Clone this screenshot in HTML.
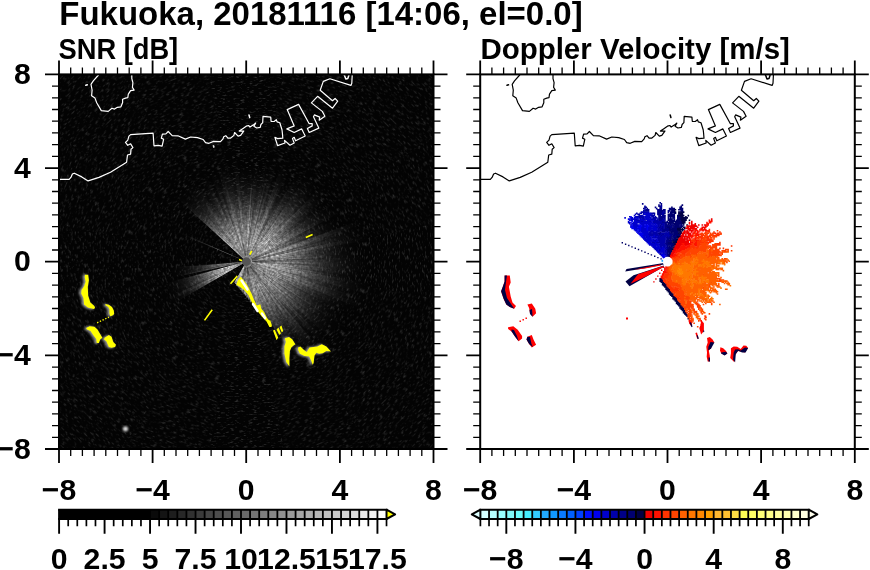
<!DOCTYPE html><html><head><meta charset="utf-8"><style>html,body{margin:0;padding:0;background:#fff;overflow:hidden}svg{display:block;will-change:transform}text{font-family:"Liberation Sans",sans-serif;font-weight:bold}</style></head><body>
<svg width="870" height="570" viewBox="0 0 870 570">
<defs><clipPath id="cl"><rect x="59" y="74.4" width="374.5" height="374.6"/></clipPath><clipPath id="cr"><rect x="480.2" y="74.4" width="374.6" height="374.6"/></clipPath>
<radialGradient id="fg" gradientUnits="userSpaceOnUse" cx="0" cy="0" r="1"><stop offset="0.00" stop-color="#fff" stop-opacity="1.000"/><stop offset="0.06" stop-color="#fff" stop-opacity="0.995"/><stop offset="0.12" stop-color="#fff" stop-opacity="0.973"/><stop offset="0.19" stop-color="#fff" stop-opacity="0.927"/><stop offset="0.25" stop-color="#fff" stop-opacity="0.856"/><stop offset="0.31" stop-color="#fff" stop-opacity="0.762"/><stop offset="0.38" stop-color="#fff" stop-opacity="0.651"/><stop offset="0.44" stop-color="#fff" stop-opacity="0.533"/><stop offset="0.50" stop-color="#fff" stop-opacity="0.415"/><stop offset="0.56" stop-color="#fff" stop-opacity="0.307"/><stop offset="0.62" stop-color="#fff" stop-opacity="0.215"/><stop offset="0.69" stop-color="#fff" stop-opacity="0.142"/><stop offset="0.75" stop-color="#fff" stop-opacity="0.089"/><stop offset="0.81" stop-color="#fff" stop-opacity="0.052"/><stop offset="0.88" stop-color="#fff" stop-opacity="0.028"/><stop offset="0.94" stop-color="#fff" stop-opacity="0.014"/><stop offset="1.00" stop-color="#fff" stop-opacity="0.007"/></radialGradient><filter id="grain" color-interpolation-filters="sRGB" x="59" y="74" width="375" height="375" filterUnits="userSpaceOnUse"><feTurbulence type="fractalNoise" baseFrequency="0.38" numOctaves="2" seed="3"/><feColorMatrix type="matrix" values="1 0 0 0 0  1 0 0 0 0  1 0 0 0 0  0 0 0 0 1" result="m"/><feComposite in="SourceGraphic" in2="m" operator="arithmetic" k1="0.9" k2="0.55" k3="0" k4="0" result="c"/><feGaussianBlur in="c" stdDeviation="0.6"/></filter><filter id="bgn" color-interpolation-filters="sRGB" filterUnits="objectBoundingBox" x="0" y="0" width="1" height="1"><feTurbulence type="fractalNoise" baseFrequency="0.22 0.6" numOctaves="2" seed="9"/><feColorMatrix type="matrix" values="0 0 0 0 1  0 0 0 0 1  0 0 0 0 1  0.6 0 0 0 -0.33"/><feGaussianBlur stdDeviation="0.3"/></filter>
<filter id="hb" x="-20%" y="-20%" width="140%" height="140%"><feGaussianBlur stdDeviation="0.8"/></filter>
</defs>
<rect width="870" height="570" fill="#fff"/>
<g clip-path="url(#cl)">
<rect x="59" y="74.4" width="374.5" height="374.6" fill="#030303"/>
<clipPath id="sc0"><path d="M246.4 261.6L109.2 -424.8L383.6 -424.8Z"/></clipPath>
<g clip-path="url(#sc0)"><rect x="-33.6" y="-18.4" width="560" height="560" fill="#fff" filter="url(#bgn)" transform="rotate(0.0 246.4 261.6)"/></g>
<clipPath id="sc1"><path d="M246.4 261.6L382.4 -425.1L635.8 -320.1Z"/></clipPath>
<g clip-path="url(#sc1)"><rect x="-33.6" y="-18.4" width="560" height="560" fill="#fff" filter="url(#bgn)" transform="rotate(22.5 246.4 261.6)"/></g>
<clipPath id="sc2"><path d="M246.4 261.6L634.8 -320.8L828.8 -126.8Z"/></clipPath>
<g clip-path="url(#sc2)"><rect x="-33.6" y="-18.4" width="560" height="560" fill="#fff" filter="url(#bgn)" transform="rotate(45.0 246.4 261.6)"/></g>
<clipPath id="sc3"><path d="M246.4 261.6L828.1 -127.8L933.1 125.6Z"/></clipPath>
<g clip-path="url(#sc3)"><rect x="-33.6" y="-18.4" width="560" height="560" fill="#fff" filter="url(#bgn)" transform="rotate(67.5 246.4 261.6)"/></g>
<clipPath id="sc4"><path d="M246.4 261.6L932.8 124.4L932.8 398.8Z"/></clipPath>
<g clip-path="url(#sc4)"><rect x="-33.6" y="-18.4" width="560" height="560" fill="#fff" filter="url(#bgn)" transform="rotate(90.0 246.4 261.6)"/></g>
<clipPath id="sc5"><path d="M246.4 261.6L933.1 397.6L828.1 651.0Z"/></clipPath>
<g clip-path="url(#sc5)"><rect x="-33.6" y="-18.4" width="560" height="560" fill="#fff" filter="url(#bgn)" transform="rotate(112.5 246.4 261.6)"/></g>
<clipPath id="sc6"><path d="M246.4 261.6L828.8 650.0L634.8 844.0Z"/></clipPath>
<g clip-path="url(#sc6)"><rect x="-33.6" y="-18.4" width="560" height="560" fill="#fff" filter="url(#bgn)" transform="rotate(135.0 246.4 261.6)"/></g>
<clipPath id="sc7"><path d="M246.4 261.6L635.8 843.3L382.4 948.3Z"/></clipPath>
<g clip-path="url(#sc7)"><rect x="-33.6" y="-18.4" width="560" height="560" fill="#fff" filter="url(#bgn)" transform="rotate(157.5 246.4 261.6)"/></g>
<clipPath id="sc8"><path d="M246.4 261.6L383.6 948.0L109.2 948.0Z"/></clipPath>
<g clip-path="url(#sc8)"><rect x="-33.6" y="-18.4" width="560" height="560" fill="#fff" filter="url(#bgn)" transform="rotate(180.0 246.4 261.6)"/></g>
<clipPath id="sc9"><path d="M246.4 261.6L110.4 948.3L-143.0 843.3Z"/></clipPath>
<g clip-path="url(#sc9)"><rect x="-33.6" y="-18.4" width="560" height="560" fill="#fff" filter="url(#bgn)" transform="rotate(202.5 246.4 261.6)"/></g>
<clipPath id="sc10"><path d="M246.4 261.6L-142.0 844.0L-336.0 650.0Z"/></clipPath>
<g clip-path="url(#sc10)"><rect x="-33.6" y="-18.4" width="560" height="560" fill="#fff" filter="url(#bgn)" transform="rotate(225.0 246.4 261.6)"/></g>
<clipPath id="sc11"><path d="M246.4 261.6L-335.3 651.0L-440.3 397.6Z"/></clipPath>
<g clip-path="url(#sc11)"><rect x="-33.6" y="-18.4" width="560" height="560" fill="#fff" filter="url(#bgn)" transform="rotate(247.5 246.4 261.6)"/></g>
<clipPath id="sc12"><path d="M246.4 261.6L-440.0 398.8L-440.0 124.4Z"/></clipPath>
<g clip-path="url(#sc12)"><rect x="-33.6" y="-18.4" width="560" height="560" fill="#fff" filter="url(#bgn)" transform="rotate(270.0 246.4 261.6)"/></g>
<clipPath id="sc13"><path d="M246.4 261.6L-440.3 125.6L-335.3 -127.8Z"/></clipPath>
<g clip-path="url(#sc13)"><rect x="-33.6" y="-18.4" width="560" height="560" fill="#fff" filter="url(#bgn)" transform="rotate(292.5 246.4 261.6)"/></g>
<clipPath id="sc14"><path d="M246.4 261.6L-336.0 -126.8L-142.0 -320.8Z"/></clipPath>
<g clip-path="url(#sc14)"><rect x="-33.6" y="-18.4" width="560" height="560" fill="#fff" filter="url(#bgn)" transform="rotate(315.0 246.4 261.6)"/></g>
<clipPath id="sc15"><path d="M246.4 261.6L-143.0 -320.1L110.4 -425.1Z"/></clipPath>
<g clip-path="url(#sc15)"><rect x="-33.6" y="-18.4" width="560" height="560" fill="#fff" filter="url(#bgn)" transform="rotate(337.5 246.4 261.6)"/></g>
<radialGradient id="fg76" gradientUnits="userSpaceOnUse" cx="246.4" cy="261.6" r="76"><stop offset="0.000" stop-color="#fff" stop-opacity="1.000"/><stop offset="0.062" stop-color="#fff" stop-opacity="0.995"/><stop offset="0.125" stop-color="#fff" stop-opacity="0.973"/><stop offset="0.188" stop-color="#fff" stop-opacity="0.927"/><stop offset="0.250" stop-color="#fff" stop-opacity="0.856"/><stop offset="0.312" stop-color="#fff" stop-opacity="0.762"/><stop offset="0.375" stop-color="#fff" stop-opacity="0.651"/><stop offset="0.438" stop-color="#fff" stop-opacity="0.533"/><stop offset="0.500" stop-color="#fff" stop-opacity="0.415"/><stop offset="0.562" stop-color="#fff" stop-opacity="0.307"/><stop offset="0.625" stop-color="#fff" stop-opacity="0.215"/><stop offset="0.688" stop-color="#fff" stop-opacity="0.142"/><stop offset="0.750" stop-color="#fff" stop-opacity="0.089"/><stop offset="0.812" stop-color="#fff" stop-opacity="0.052"/><stop offset="0.875" stop-color="#fff" stop-opacity="0.028"/><stop offset="0.938" stop-color="#fff" stop-opacity="0.014"/><stop offset="1.000" stop-color="#fff" stop-opacity="0.007"/></radialGradient>
<radialGradient id="fg84" gradientUnits="userSpaceOnUse" cx="246.4" cy="261.6" r="84"><stop offset="0.000" stop-color="#fff" stop-opacity="1.000"/><stop offset="0.062" stop-color="#fff" stop-opacity="0.995"/><stop offset="0.125" stop-color="#fff" stop-opacity="0.973"/><stop offset="0.188" stop-color="#fff" stop-opacity="0.927"/><stop offset="0.250" stop-color="#fff" stop-opacity="0.856"/><stop offset="0.312" stop-color="#fff" stop-opacity="0.762"/><stop offset="0.375" stop-color="#fff" stop-opacity="0.651"/><stop offset="0.438" stop-color="#fff" stop-opacity="0.533"/><stop offset="0.500" stop-color="#fff" stop-opacity="0.415"/><stop offset="0.562" stop-color="#fff" stop-opacity="0.307"/><stop offset="0.625" stop-color="#fff" stop-opacity="0.215"/><stop offset="0.688" stop-color="#fff" stop-opacity="0.142"/><stop offset="0.750" stop-color="#fff" stop-opacity="0.089"/><stop offset="0.812" stop-color="#fff" stop-opacity="0.052"/><stop offset="0.875" stop-color="#fff" stop-opacity="0.028"/><stop offset="0.938" stop-color="#fff" stop-opacity="0.014"/><stop offset="1.000" stop-color="#fff" stop-opacity="0.007"/></radialGradient>
<radialGradient id="fg88" gradientUnits="userSpaceOnUse" cx="246.4" cy="261.6" r="88"><stop offset="0.000" stop-color="#fff" stop-opacity="1.000"/><stop offset="0.062" stop-color="#fff" stop-opacity="0.995"/><stop offset="0.125" stop-color="#fff" stop-opacity="0.973"/><stop offset="0.188" stop-color="#fff" stop-opacity="0.927"/><stop offset="0.250" stop-color="#fff" stop-opacity="0.856"/><stop offset="0.312" stop-color="#fff" stop-opacity="0.762"/><stop offset="0.375" stop-color="#fff" stop-opacity="0.651"/><stop offset="0.438" stop-color="#fff" stop-opacity="0.533"/><stop offset="0.500" stop-color="#fff" stop-opacity="0.415"/><stop offset="0.562" stop-color="#fff" stop-opacity="0.307"/><stop offset="0.625" stop-color="#fff" stop-opacity="0.215"/><stop offset="0.688" stop-color="#fff" stop-opacity="0.142"/><stop offset="0.750" stop-color="#fff" stop-opacity="0.089"/><stop offset="0.812" stop-color="#fff" stop-opacity="0.052"/><stop offset="0.875" stop-color="#fff" stop-opacity="0.028"/><stop offset="0.938" stop-color="#fff" stop-opacity="0.014"/><stop offset="1.000" stop-color="#fff" stop-opacity="0.007"/></radialGradient>
<radialGradient id="fg92" gradientUnits="userSpaceOnUse" cx="246.4" cy="261.6" r="92"><stop offset="0.000" stop-color="#fff" stop-opacity="1.000"/><stop offset="0.062" stop-color="#fff" stop-opacity="0.995"/><stop offset="0.125" stop-color="#fff" stop-opacity="0.973"/><stop offset="0.188" stop-color="#fff" stop-opacity="0.927"/><stop offset="0.250" stop-color="#fff" stop-opacity="0.856"/><stop offset="0.312" stop-color="#fff" stop-opacity="0.762"/><stop offset="0.375" stop-color="#fff" stop-opacity="0.651"/><stop offset="0.438" stop-color="#fff" stop-opacity="0.533"/><stop offset="0.500" stop-color="#fff" stop-opacity="0.415"/><stop offset="0.562" stop-color="#fff" stop-opacity="0.307"/><stop offset="0.625" stop-color="#fff" stop-opacity="0.215"/><stop offset="0.688" stop-color="#fff" stop-opacity="0.142"/><stop offset="0.750" stop-color="#fff" stop-opacity="0.089"/><stop offset="0.812" stop-color="#fff" stop-opacity="0.052"/><stop offset="0.875" stop-color="#fff" stop-opacity="0.028"/><stop offset="0.938" stop-color="#fff" stop-opacity="0.014"/><stop offset="1.000" stop-color="#fff" stop-opacity="0.007"/></radialGradient>
<radialGradient id="fg96" gradientUnits="userSpaceOnUse" cx="246.4" cy="261.6" r="96"><stop offset="0.000" stop-color="#fff" stop-opacity="1.000"/><stop offset="0.062" stop-color="#fff" stop-opacity="0.995"/><stop offset="0.125" stop-color="#fff" stop-opacity="0.973"/><stop offset="0.188" stop-color="#fff" stop-opacity="0.927"/><stop offset="0.250" stop-color="#fff" stop-opacity="0.856"/><stop offset="0.312" stop-color="#fff" stop-opacity="0.762"/><stop offset="0.375" stop-color="#fff" stop-opacity="0.651"/><stop offset="0.438" stop-color="#fff" stop-opacity="0.533"/><stop offset="0.500" stop-color="#fff" stop-opacity="0.415"/><stop offset="0.562" stop-color="#fff" stop-opacity="0.307"/><stop offset="0.625" stop-color="#fff" stop-opacity="0.215"/><stop offset="0.688" stop-color="#fff" stop-opacity="0.142"/><stop offset="0.750" stop-color="#fff" stop-opacity="0.089"/><stop offset="0.812" stop-color="#fff" stop-opacity="0.052"/><stop offset="0.875" stop-color="#fff" stop-opacity="0.028"/><stop offset="0.938" stop-color="#fff" stop-opacity="0.014"/><stop offset="1.000" stop-color="#fff" stop-opacity="0.007"/></radialGradient>
<radialGradient id="fg100" gradientUnits="userSpaceOnUse" cx="246.4" cy="261.6" r="100"><stop offset="0.000" stop-color="#fff" stop-opacity="1.000"/><stop offset="0.062" stop-color="#fff" stop-opacity="0.995"/><stop offset="0.125" stop-color="#fff" stop-opacity="0.973"/><stop offset="0.188" stop-color="#fff" stop-opacity="0.927"/><stop offset="0.250" stop-color="#fff" stop-opacity="0.856"/><stop offset="0.312" stop-color="#fff" stop-opacity="0.762"/><stop offset="0.375" stop-color="#fff" stop-opacity="0.651"/><stop offset="0.438" stop-color="#fff" stop-opacity="0.533"/><stop offset="0.500" stop-color="#fff" stop-opacity="0.415"/><stop offset="0.562" stop-color="#fff" stop-opacity="0.307"/><stop offset="0.625" stop-color="#fff" stop-opacity="0.215"/><stop offset="0.688" stop-color="#fff" stop-opacity="0.142"/><stop offset="0.750" stop-color="#fff" stop-opacity="0.089"/><stop offset="0.812" stop-color="#fff" stop-opacity="0.052"/><stop offset="0.875" stop-color="#fff" stop-opacity="0.028"/><stop offset="0.938" stop-color="#fff" stop-opacity="0.014"/><stop offset="1.000" stop-color="#fff" stop-opacity="0.007"/></radialGradient>
<radialGradient id="fg104" gradientUnits="userSpaceOnUse" cx="246.4" cy="261.6" r="104"><stop offset="0.000" stop-color="#fff" stop-opacity="1.000"/><stop offset="0.062" stop-color="#fff" stop-opacity="0.995"/><stop offset="0.125" stop-color="#fff" stop-opacity="0.973"/><stop offset="0.188" stop-color="#fff" stop-opacity="0.927"/><stop offset="0.250" stop-color="#fff" stop-opacity="0.856"/><stop offset="0.312" stop-color="#fff" stop-opacity="0.762"/><stop offset="0.375" stop-color="#fff" stop-opacity="0.651"/><stop offset="0.438" stop-color="#fff" stop-opacity="0.533"/><stop offset="0.500" stop-color="#fff" stop-opacity="0.415"/><stop offset="0.562" stop-color="#fff" stop-opacity="0.307"/><stop offset="0.625" stop-color="#fff" stop-opacity="0.215"/><stop offset="0.688" stop-color="#fff" stop-opacity="0.142"/><stop offset="0.750" stop-color="#fff" stop-opacity="0.089"/><stop offset="0.812" stop-color="#fff" stop-opacity="0.052"/><stop offset="0.875" stop-color="#fff" stop-opacity="0.028"/><stop offset="0.938" stop-color="#fff" stop-opacity="0.014"/><stop offset="1.000" stop-color="#fff" stop-opacity="0.007"/></radialGradient>
<radialGradient id="fg108" gradientUnits="userSpaceOnUse" cx="246.4" cy="261.6" r="108"><stop offset="0.000" stop-color="#fff" stop-opacity="1.000"/><stop offset="0.062" stop-color="#fff" stop-opacity="0.995"/><stop offset="0.125" stop-color="#fff" stop-opacity="0.973"/><stop offset="0.188" stop-color="#fff" stop-opacity="0.927"/><stop offset="0.250" stop-color="#fff" stop-opacity="0.856"/><stop offset="0.312" stop-color="#fff" stop-opacity="0.762"/><stop offset="0.375" stop-color="#fff" stop-opacity="0.651"/><stop offset="0.438" stop-color="#fff" stop-opacity="0.533"/><stop offset="0.500" stop-color="#fff" stop-opacity="0.415"/><stop offset="0.562" stop-color="#fff" stop-opacity="0.307"/><stop offset="0.625" stop-color="#fff" stop-opacity="0.215"/><stop offset="0.688" stop-color="#fff" stop-opacity="0.142"/><stop offset="0.750" stop-color="#fff" stop-opacity="0.089"/><stop offset="0.812" stop-color="#fff" stop-opacity="0.052"/><stop offset="0.875" stop-color="#fff" stop-opacity="0.028"/><stop offset="0.938" stop-color="#fff" stop-opacity="0.014"/><stop offset="1.000" stop-color="#fff" stop-opacity="0.007"/></radialGradient>
<radialGradient id="fg112" gradientUnits="userSpaceOnUse" cx="246.4" cy="261.6" r="112"><stop offset="0.000" stop-color="#fff" stop-opacity="1.000"/><stop offset="0.062" stop-color="#fff" stop-opacity="0.995"/><stop offset="0.125" stop-color="#fff" stop-opacity="0.973"/><stop offset="0.188" stop-color="#fff" stop-opacity="0.927"/><stop offset="0.250" stop-color="#fff" stop-opacity="0.856"/><stop offset="0.312" stop-color="#fff" stop-opacity="0.762"/><stop offset="0.375" stop-color="#fff" stop-opacity="0.651"/><stop offset="0.438" stop-color="#fff" stop-opacity="0.533"/><stop offset="0.500" stop-color="#fff" stop-opacity="0.415"/><stop offset="0.562" stop-color="#fff" stop-opacity="0.307"/><stop offset="0.625" stop-color="#fff" stop-opacity="0.215"/><stop offset="0.688" stop-color="#fff" stop-opacity="0.142"/><stop offset="0.750" stop-color="#fff" stop-opacity="0.089"/><stop offset="0.812" stop-color="#fff" stop-opacity="0.052"/><stop offset="0.875" stop-color="#fff" stop-opacity="0.028"/><stop offset="0.938" stop-color="#fff" stop-opacity="0.014"/><stop offset="1.000" stop-color="#fff" stop-opacity="0.007"/></radialGradient>
<radialGradient id="fg116" gradientUnits="userSpaceOnUse" cx="246.4" cy="261.6" r="116"><stop offset="0.000" stop-color="#fff" stop-opacity="1.000"/><stop offset="0.062" stop-color="#fff" stop-opacity="0.995"/><stop offset="0.125" stop-color="#fff" stop-opacity="0.973"/><stop offset="0.188" stop-color="#fff" stop-opacity="0.927"/><stop offset="0.250" stop-color="#fff" stop-opacity="0.856"/><stop offset="0.312" stop-color="#fff" stop-opacity="0.762"/><stop offset="0.375" stop-color="#fff" stop-opacity="0.651"/><stop offset="0.438" stop-color="#fff" stop-opacity="0.533"/><stop offset="0.500" stop-color="#fff" stop-opacity="0.415"/><stop offset="0.562" stop-color="#fff" stop-opacity="0.307"/><stop offset="0.625" stop-color="#fff" stop-opacity="0.215"/><stop offset="0.688" stop-color="#fff" stop-opacity="0.142"/><stop offset="0.750" stop-color="#fff" stop-opacity="0.089"/><stop offset="0.812" stop-color="#fff" stop-opacity="0.052"/><stop offset="0.875" stop-color="#fff" stop-opacity="0.028"/><stop offset="0.938" stop-color="#fff" stop-opacity="0.014"/><stop offset="1.000" stop-color="#fff" stop-opacity="0.007"/></radialGradient>
<radialGradient id="fg120" gradientUnits="userSpaceOnUse" cx="246.4" cy="261.6" r="120"><stop offset="0.000" stop-color="#fff" stop-opacity="1.000"/><stop offset="0.062" stop-color="#fff" stop-opacity="0.995"/><stop offset="0.125" stop-color="#fff" stop-opacity="0.973"/><stop offset="0.188" stop-color="#fff" stop-opacity="0.927"/><stop offset="0.250" stop-color="#fff" stop-opacity="0.856"/><stop offset="0.312" stop-color="#fff" stop-opacity="0.762"/><stop offset="0.375" stop-color="#fff" stop-opacity="0.651"/><stop offset="0.438" stop-color="#fff" stop-opacity="0.533"/><stop offset="0.500" stop-color="#fff" stop-opacity="0.415"/><stop offset="0.562" stop-color="#fff" stop-opacity="0.307"/><stop offset="0.625" stop-color="#fff" stop-opacity="0.215"/><stop offset="0.688" stop-color="#fff" stop-opacity="0.142"/><stop offset="0.750" stop-color="#fff" stop-opacity="0.089"/><stop offset="0.812" stop-color="#fff" stop-opacity="0.052"/><stop offset="0.875" stop-color="#fff" stop-opacity="0.028"/><stop offset="0.938" stop-color="#fff" stop-opacity="0.014"/><stop offset="1.000" stop-color="#fff" stop-opacity="0.007"/></radialGradient>
<radialGradient id="fg124" gradientUnits="userSpaceOnUse" cx="246.4" cy="261.6" r="124"><stop offset="0.000" stop-color="#fff" stop-opacity="1.000"/><stop offset="0.062" stop-color="#fff" stop-opacity="0.995"/><stop offset="0.125" stop-color="#fff" stop-opacity="0.973"/><stop offset="0.188" stop-color="#fff" stop-opacity="0.927"/><stop offset="0.250" stop-color="#fff" stop-opacity="0.856"/><stop offset="0.312" stop-color="#fff" stop-opacity="0.762"/><stop offset="0.375" stop-color="#fff" stop-opacity="0.651"/><stop offset="0.438" stop-color="#fff" stop-opacity="0.533"/><stop offset="0.500" stop-color="#fff" stop-opacity="0.415"/><stop offset="0.562" stop-color="#fff" stop-opacity="0.307"/><stop offset="0.625" stop-color="#fff" stop-opacity="0.215"/><stop offset="0.688" stop-color="#fff" stop-opacity="0.142"/><stop offset="0.750" stop-color="#fff" stop-opacity="0.089"/><stop offset="0.812" stop-color="#fff" stop-opacity="0.052"/><stop offset="0.875" stop-color="#fff" stop-opacity="0.028"/><stop offset="0.938" stop-color="#fff" stop-opacity="0.014"/><stop offset="1.000" stop-color="#fff" stop-opacity="0.007"/></radialGradient>
<radialGradient id="fg128" gradientUnits="userSpaceOnUse" cx="246.4" cy="261.6" r="128"><stop offset="0.000" stop-color="#fff" stop-opacity="1.000"/><stop offset="0.062" stop-color="#fff" stop-opacity="0.995"/><stop offset="0.125" stop-color="#fff" stop-opacity="0.973"/><stop offset="0.188" stop-color="#fff" stop-opacity="0.927"/><stop offset="0.250" stop-color="#fff" stop-opacity="0.856"/><stop offset="0.312" stop-color="#fff" stop-opacity="0.762"/><stop offset="0.375" stop-color="#fff" stop-opacity="0.651"/><stop offset="0.438" stop-color="#fff" stop-opacity="0.533"/><stop offset="0.500" stop-color="#fff" stop-opacity="0.415"/><stop offset="0.562" stop-color="#fff" stop-opacity="0.307"/><stop offset="0.625" stop-color="#fff" stop-opacity="0.215"/><stop offset="0.688" stop-color="#fff" stop-opacity="0.142"/><stop offset="0.750" stop-color="#fff" stop-opacity="0.089"/><stop offset="0.812" stop-color="#fff" stop-opacity="0.052"/><stop offset="0.875" stop-color="#fff" stop-opacity="0.028"/><stop offset="0.938" stop-color="#fff" stop-opacity="0.014"/><stop offset="1.000" stop-color="#fff" stop-opacity="0.007"/></radialGradient>
<radialGradient id="sg" gradientUnits="userSpaceOnUse" cx="246.4" cy="261.6" r="95"><stop offset="0" stop-color="#fff"/><stop offset="0.5" stop-color="#fff" stop-opacity="0.7"/><stop offset="1" stop-color="#fff" stop-opacity="0"/></radialGradient>
<radialGradient id="sk" gradientUnits="userSpaceOnUse" cx="246.4" cy="261.6" r="95"><stop offset="0" stop-color="#000"/><stop offset="0.6" stop-color="#000" stop-opacity="0.8"/><stop offset="1" stop-color="#000" stop-opacity="0"/></radialGradient>
<g filter="url(#grain)"><g><path d="M246.4 261.6L246.4 165.6L247.8 165.6L249.2 165.6L250.6 165.7Z" fill="url(#fg96)" fill-opacity="0.74"/><path d="M246.4 261.6L250.6 165.7L252.0 165.8L253.4 165.9L254.8 166.0Z" fill="url(#fg96)" fill-opacity="0.79"/><path d="M246.4 261.6L255.1 162.0L256.6 162.1L258.0 162.3L259.5 162.5Z" fill="url(#fg100)" fill-opacity="0.74"/><path d="M246.4 261.6L258.9 166.4L260.3 166.6L261.7 166.8L263.1 167.1Z" fill="url(#fg96)" fill-opacity="0.71"/><path d="M246.4 261.6L263.8 163.1L265.2 163.4L266.6 163.7L268.0 164.0Z" fill="url(#fg100)" fill-opacity="0.75"/><path d="M246.4 261.6L267.2 167.9L268.5 168.2L269.9 168.5L271.2 168.9Z" fill="url(#fg96)" fill-opacity="0.70"/><path d="M246.4 261.6L272.3 165.0L273.7 165.4L275.1 165.8L276.5 166.2Z" fill="url(#fg100)" fill-opacity="0.70"/><path d="M246.4 261.6L274.1 173.9L275.3 174.3L276.6 174.7L277.9 175.1Z" fill="url(#fg92)" fill-opacity="0.76"/><path d="M246.4 261.6L282.0 163.9L283.4 164.4L284.8 164.9L286.2 165.5Z" fill="url(#fg104)" fill-opacity="0.79"/><path d="M246.4 261.6L284.7 169.2L286.0 169.8L287.3 170.4L288.7 171.0Z" fill="url(#fg100)" fill-opacity="0.76"/><path d="M246.4 261.6L285.3 178.2L286.5 178.8L287.7 179.4L288.9 180.0Z" fill="url(#fg92)" fill-opacity="0.71"/><path d="M246.4 261.6L288.9 180.0L290.1 180.6L291.2 181.3L292.4 181.9Z" fill="url(#fg92)" fill-opacity="0.74"/><path d="M246.4 261.6L296.4 175.0L297.7 175.7L298.9 176.5L300.1 177.3Z" fill="url(#fg100)" fill-opacity="0.77"/><path d="M246.4 261.6L300.1 177.3L301.4 178.1L302.6 178.9L303.8 179.7Z" fill="url(#fg100)" fill-opacity="0.75"/><path d="M246.4 261.6L306.1 176.4L307.3 177.3L308.5 178.2L309.7 179.1Z" fill="url(#fg104)" fill-opacity="0.80"/><path d="M246.4 261.6L309.7 179.1L310.9 180.0L312.1 181.0L313.2 181.9Z" fill="url(#fg104)" fill-opacity="0.81"/><path d="M246.4 261.6L313.2 181.9L314.4 182.9L315.5 183.9L316.7 184.9Z" fill="url(#fg104)" fill-opacity="0.81"/><path d="M246.4 261.6L314.0 187.9L315.0 188.9L316.1 189.9L317.1 190.9Z" fill="url(#fg100)" fill-opacity="0.80"/><path d="M246.4 261.6L322.8 185.2L323.9 186.4L325.0 187.5L326.0 188.6Z" fill="url(#fg108)" fill-opacity="0.86"/><path d="M246.4 261.6L323.1 191.3L324.1 192.5L325.1 193.6L326.1 194.8Z" fill="url(#fg104)" fill-opacity="0.84"/><path d="M246.4 261.6L323.0 197.3L323.9 198.4L324.8 199.6L325.7 200.7Z" fill="url(#fg100)" fill-opacity="0.79"/><path d="M246.4 261.6L322.6 203.2L323.4 204.3L324.2 205.4L325.0 206.5Z" fill="url(#fg96)" fill-opacity="0.78"/><path d="M246.4 261.6L328.3 204.2L329.1 205.4L329.9 206.6L330.7 207.9Z" fill="url(#fg100)" fill-opacity="0.84"/><path d="M246.4 261.6L330.7 207.9L331.5 209.1L332.3 210.3L333.0 211.6Z" fill="url(#fg100)" fill-opacity="0.85"/><path d="M246.4 261.6L336.5 209.6L337.2 210.9L337.9 212.2L338.6 213.6Z" fill="url(#fg104)" fill-opacity="0.86"/><path d="M246.4 261.6L331.6 217.3L332.2 218.5L332.8 219.8L333.4 221.0Z" fill="url(#fg96)" fill-opacity="0.75"/><path d="M246.4 261.6L337.0 219.3L337.6 220.7L338.2 222.0L338.8 223.3Z" fill="url(#fg100)" fill-opacity="0.85"/><path d="M246.4 261.6L338.8 223.3L339.3 224.7L339.9 226.0L340.4 227.4Z" fill="url(#fg100)" fill-opacity="0.86"/><path d="M246.4 261.6L362.9 219.2L363.5 220.9L364.1 222.6L364.7 224.3Z" fill="url(#fg124)" fill-opacity="0.73"/><path d="M246.4 261.6L357.0 226.7L357.5 228.3L358.0 230.0L358.4 231.6Z" fill="url(#fg116)" fill-opacity="0.81"/><path d="M246.4 261.6L362.3 230.5L362.8 232.2L363.2 233.9L363.6 235.6Z" fill="url(#fg120)" fill-opacity="0.73"/><path d="M246.4 261.6L367.5 234.8L367.8 236.5L368.2 238.3L368.5 240.1Z" fill="url(#fg124)" fill-opacity="0.83"/><path d="M246.4 261.6L360.6 241.5L360.9 243.1L361.2 244.8L361.4 246.5Z" fill="url(#fg116)" fill-opacity="0.74"/><path d="M246.4 261.6L361.4 246.5L361.6 248.1L361.8 249.8L362.0 251.5Z" fill="url(#fg116)" fill-opacity="0.74"/><path d="M246.4 261.6L362.0 251.5L362.1 253.2L362.2 254.9L362.3 256.5Z" fill="url(#fg116)" fill-opacity="0.81"/><path d="M246.4 261.6L366.3 256.4L366.3 258.1L366.4 259.9L366.4 261.6Z" fill="url(#fg120)" fill-opacity="0.79"/><path d="M246.4 261.6L370.4 261.6L370.4 263.4L370.3 265.2L370.3 267.0Z" fill="url(#fg124)" fill-opacity="0.75"/><path d="M246.4 261.6L370.3 267.0L370.2 268.8L370.1 270.6L369.9 272.4Z" fill="url(#fg124)" fill-opacity="0.74"/><path d="M246.4 261.6L365.9 272.1L365.8 273.8L365.6 275.5L365.4 277.3Z" fill="url(#fg120)" fill-opacity="0.74"/><path d="M246.4 261.6L361.4 276.7L361.2 278.4L360.9 280.1L360.6 281.7Z" fill="url(#fg116)" fill-opacity="0.75"/><path d="M246.4 261.6L368.5 283.1L368.2 284.9L367.8 286.7L367.5 288.4Z" fill="url(#fg124)" fill-opacity="0.83"/><path d="M246.4 261.6L371.4 289.3L370.9 291.1L370.5 292.9L370.0 294.7Z" fill="url(#fg128)" fill-opacity="0.76"/><path d="M246.4 261.6L362.3 292.7L361.8 294.3L361.4 296.0L360.8 297.7Z" fill="url(#fg120)" fill-opacity="0.75"/><path d="M246.4 261.6L364.7 298.9L364.1 300.6L363.5 302.3L362.9 304.0Z" fill="url(#fg124)" fill-opacity="0.82"/><path d="M246.4 261.6L366.7 305.4L366.0 307.1L365.4 308.9L364.7 310.6Z" fill="url(#fg128)" fill-opacity="0.74"/><path d="M246.4 261.6L353.6 306.0L352.9 307.5L352.2 309.1L351.5 310.6Z" fill="url(#fg116)" fill-opacity="0.75"/><path d="M246.4 261.6L347.9 308.9L347.2 310.4L346.5 311.9L345.7 313.3Z" fill="url(#fg112)" fill-opacity="0.76"/><path d="M246.4 261.6L342.2 311.5L341.5 312.9L340.7 314.2L339.9 315.6Z" fill="url(#fg108)" fill-opacity="0.71"/><path d="M246.4 261.6L343.4 317.6L342.6 319.0L341.7 320.4L340.9 321.8Z" fill="url(#fg112)" fill-opacity="0.69"/><path d="M246.4 261.6L340.9 321.8L340.0 323.1L339.1 324.5L338.1 325.8Z" fill="url(#fg112)" fill-opacity="0.70"/><path d="M246.4 261.6L338.1 325.8L337.2 327.2L336.2 328.5L335.3 329.8Z" fill="url(#fg112)" fill-opacity="0.71"/><path d="M246.4 261.6L335.3 329.8L334.3 331.1L333.2 332.3L332.2 333.6Z" fill="url(#fg112)" fill-opacity="0.77"/><path d="M246.4 261.6L335.3 336.2L334.2 337.4L333.1 338.7L331.9 340.0Z" fill="url(#fg116)" fill-opacity="0.74"/><path d="M246.4 261.6L326.0 334.6L325.0 335.7L323.9 336.8L322.8 338.0Z" fill="url(#fg108)" fill-opacity="0.70"/><path d="M246.4 261.6L328.4 343.6L327.2 344.8L326.0 346.0L324.8 347.1Z" fill="url(#fg116)" fill-opacity="0.77"/><path d="M246.4 261.6L319.4 341.2L318.2 342.3L317.0 343.3L315.8 344.3Z" fill="url(#fg108)" fill-opacity="0.70"/><path d="M246.4 261.6L323.5 353.5L322.2 354.6L320.8 355.7L319.5 356.8Z" fill="url(#fg120)" fill-opacity="0.75"/><path d="M246.4 261.6L319.5 356.8L318.1 357.9L316.7 358.9L315.2 359.9Z" fill="url(#fg120)" fill-opacity="0.70"/><path d="M246.4 261.6L310.6 353.3L309.3 354.3L307.9 355.2L306.6 356.1Z" fill="url(#fg112)" fill-opacity="0.77"/><path d="M246.4 261.6L304.4 352.7L303.1 353.5L301.8 354.3L300.4 355.1Z" fill="url(#fg108)" fill-opacity="0.72"/><path d="M246.4 261.6L305.7 364.2L304.2 365.1L302.6 365.9L301.1 366.7Z" fill="url(#fg120)" fill-opacity="0.68"/><path d="M246.4 261.6L291.0 347.3L289.8 348.0L288.5 348.6L287.2 349.2Z" fill="url(#fg116)" fill-opacity="0.70"/><path d="M246.4 261.6L280.6 334.9L279.5 335.3L278.4 335.8L277.3 336.3Z" fill="url(#fg116)" fill-opacity="0.70"/><path d="M246.4 261.6L273.1 326.0L272.1 326.4L271.2 326.7L270.2 327.1Z" fill="url(#fg108)" fill-opacity="0.74"/><path d="M246.4 261.6L267.5 319.5L266.6 319.8L265.8 320.1L264.9 320.4Z" fill="url(#fg120)" fill-opacity="0.69"/><path d="M246.4 261.6L263.5 315.8L262.7 316.1L261.9 316.3L261.1 316.5Z" fill="url(#fg116)" fill-opacity="0.68"/><path d="M246.4 261.6L259.7 311.2L259.0 311.4L258.2 311.5L257.5 311.7Z" fill="url(#fg124)" fill-opacity="0.73"/><path d="M246.4 261.6L256.6 307.7L256.0 307.9L255.3 308.0L254.6 308.1Z" fill="url(#fg116)" fill-opacity="0.74"/><path d="M246.4 261.6L254.1 305.1L253.4 305.2L252.8 305.3L252.2 305.4Z" fill="url(#fg116)" fill-opacity="0.77"/><path d="M246.4 261.6L251.7 302.2L251.2 302.2L250.6 302.3L250.0 302.4Z" fill="url(#fg116)" fill-opacity="0.68"/><path d="M246.4 261.6L249.7 299.5L249.2 299.6L248.6 299.6L248.1 299.7Z" fill="url(#fg112)" fill-opacity="0.72"/><path d="M246.4 261.6L248.0 297.4L247.4 297.4L246.9 297.5L246.4 297.5Z" fill="url(#fg116)" fill-opacity="0.70"/><path d="M246.4 261.6L246.4 295.4L245.9 295.4L245.4 295.4L244.9 295.4Z" fill="url(#fg112)" fill-opacity="0.74"/><path d="M246.4 261.6L245.0 294.2L244.5 294.2L244.0 294.1L243.6 294.1Z" fill="url(#fg124)" fill-opacity="0.71"/><path d="M246.4 261.6L243.7 292.5L243.2 292.5L242.8 292.4L242.3 292.4Z" fill="url(#fg120)" fill-opacity="0.78"/><path d="M246.4 261.6L242.5 291.4L242.0 291.3L241.6 291.3L241.2 291.2Z" fill="url(#fg120)" fill-opacity="0.75"/><path d="M246.4 261.6L241.4 290.1L241.0 290.0L240.5 289.9L240.1 289.8Z" fill="url(#fg112)" fill-opacity="0.69"/><path d="M246.4 261.6L240.4 288.8L240.0 288.7L239.6 288.6L239.2 288.5Z" fill="url(#fg124)" fill-opacity="0.68"/><path d="M246.4 261.6L239.4 287.6L239.1 287.5L238.7 287.3L238.3 287.2Z" fill="url(#fg124)" fill-opacity="0.75"/><path d="M246.4 261.6L238.5 286.6L238.1 286.5L237.8 286.4L237.4 286.3Z" fill="url(#fg120)" fill-opacity="0.68"/><path d="M246.4 261.6L237.5 286.2L237.1 286.1L236.7 285.9L236.4 285.8Z" fill="url(#fg124)" fill-opacity="0.73"/><path d="M246.4 261.6L236.9 284.5L236.6 284.4L236.2 284.2L235.9 284.1Z" fill="url(#fg124)" fill-opacity="0.71"/><path d="M246.4 261.6L235.9 284.1L235.6 283.9L235.3 283.7L235.0 283.6Z" fill="url(#fg120)" fill-opacity="0.68"/><path d="M246.4 261.6L235.3 283.0L234.9 282.8L234.6 282.7L234.3 282.5Z" fill="url(#fg124)" fill-opacity="0.75"/><path d="M246.4 261.6L173.7 303.6L173.1 302.5L172.5 301.5L171.9 300.4Z" fill="url(#fg84)" fill-opacity="0.97"/><path d="M246.4 261.6L168.3 302.2L167.8 301.1L167.2 299.9L166.6 298.8Z" fill="url(#fg88)" fill-opacity="0.97"/><path d="M246.4 261.6L170.3 297.1L169.8 296.0L169.3 294.9L168.8 293.7Z" fill="url(#fg84)" fill-opacity="0.92"/><path d="M246.4 261.6L168.8 293.7L168.3 292.6L167.9 291.5L167.5 290.3Z" fill="url(#fg84)" fill-opacity="0.99"/><path d="M246.4 261.6L167.5 290.3L167.1 289.2L166.7 288.0L166.3 286.9Z" fill="url(#fg84)" fill-opacity="0.93"/><path d="M246.4 261.6L166.3 286.9L165.9 285.7L165.6 284.5L165.3 283.3Z" fill="url(#fg84)" fill-opacity="0.98"/><path d="M246.4 261.6L172.2 278.0L172.0 277.0L171.8 275.9L171.6 274.8Z" fill="url(#fg76)" fill-opacity="0.69"/><path d="M246.4 261.6L171.6 274.8L171.4 273.7L171.2 272.6L171.1 271.5Z" fill="url(#fg76)" fill-opacity="0.68"/><path d="M246.4 261.6L171.1 271.5L170.9 270.4L170.8 269.3L170.7 268.2Z" fill="url(#fg76)" fill-opacity="0.64"/><path d="M246.4 261.6L175.6 196.7L176.6 195.7L177.5 194.7L178.5 193.7Z" fill="url(#fg96)" fill-opacity="0.83"/><path d="M246.4 261.6L181.3 196.5L182.3 195.6L183.3 194.7L184.2 193.8Z" fill="url(#fg92)" fill-opacity="0.80"/><path d="M246.4 261.6L184.2 193.8L185.2 192.9L186.2 192.0L187.3 191.1Z" fill="url(#fg92)" fill-opacity="0.81"/><path d="M246.4 261.6L184.7 188.1L185.8 187.2L186.9 186.3L188.0 185.4Z" fill="url(#fg96)" fill-opacity="0.77"/><path d="M246.4 261.6L188.0 185.4L189.1 184.6L190.2 183.8L191.3 183.0Z" fill="url(#fg96)" fill-opacity="0.73"/><path d="M246.4 261.6L191.3 183.0L192.5 182.2L193.6 181.4L194.8 180.6Z" fill="url(#fg96)" fill-opacity="0.73"/><path d="M246.4 261.6L199.1 187.4L200.2 186.7L201.3 186.0L202.4 185.4Z" fill="url(#fg88)" fill-opacity="0.78"/><path d="M246.4 261.6L200.4 181.9L201.6 181.3L202.7 180.6L203.9 180.0Z" fill="url(#fg92)" fill-opacity="0.80"/><path d="M246.4 261.6L202.1 176.4L203.3 175.8L204.6 175.2L205.8 174.6Z" fill="url(#fg96)" fill-opacity="0.79"/><path d="M246.4 261.6L209.2 181.8L210.4 181.3L211.5 180.8L212.7 180.3Z" fill="url(#fg88)" fill-opacity="0.75"/><path d="M246.4 261.6L209.7 172.9L211.0 172.4L212.3 171.9L213.6 171.4Z" fill="url(#fg96)" fill-opacity="0.76"/><path d="M246.4 261.6L214.9 175.1L216.2 174.7L217.5 174.3L218.7 173.9Z" fill="url(#fg92)" fill-opacity="0.71"/><path d="M246.4 261.6L216.3 166.2L217.7 165.8L219.1 165.4L220.5 165.0Z" fill="url(#fg100)" fill-opacity="0.78"/><path d="M246.4 261.6L220.5 165.0L221.9 164.6L223.3 164.3L224.8 164.0Z" fill="url(#fg100)" fill-opacity="0.73"/><path d="M246.4 261.6L224.8 164.0L226.2 163.7L227.6 163.4L229.0 163.1Z" fill="url(#fg100)" fill-opacity="0.72"/><path d="M246.4 261.6L229.7 167.1L231.1 166.8L232.5 166.6L233.9 166.4Z" fill="url(#fg96)" fill-opacity="0.71"/><path d="M246.4 261.6L232.8 158.5L234.3 158.3L235.8 158.1L237.3 158.0Z" fill="url(#fg104)" fill-opacity="0.77"/><path d="M246.4 261.6L238.0 166.0L239.4 165.9L240.8 165.8L242.2 165.7Z" fill="url(#fg96)" fill-opacity="0.78"/><path d="M246.4 261.6L242.2 165.7L243.6 165.6L245.0 165.6L246.4 165.6Z" fill="url(#fg96)" fill-opacity="0.75"/><path d="M246.4 261.6L177.2 232.8L177.8 231.3Z" fill="url(#fg76)" fill-opacity="0.55"/></g><g stroke="url(#sg)" fill="none"><path d="M244.5 255.9L224.2 193.4" stroke-opacity="0.08" stroke-width="1.2"/><path d="M244.9 255.8L224.6 179.9" stroke-opacity="0.08" stroke-width="1.2"/><path d="M246.8 255.6L251.7 183.9" stroke-opacity="0.17" stroke-width="1.0"/><path d="M251.7 258.8L314.4 225.8" stroke-opacity="0.18" stroke-width="1.0"/><path d="M252.1 259.8L341.1 231.5" stroke-opacity="0.14" stroke-width="1.3"/><path d="M244.8 255.8L221.7 172.9" stroke-opacity="0.10" stroke-width="1.2"/><path d="M251.1 265.3L321.6 320.2" stroke-opacity="0.07" stroke-width="1.4"/><path d="M250.6 265.9L308.2 324.0" stroke-opacity="0.14" stroke-width="1.0"/><path d="M245.3 267.5L241.0 290.3" stroke-opacity="0.15" stroke-width="1.5"/><path d="M243.0 256.7L206.4 204.5" stroke-opacity="0.10" stroke-width="1.5"/><path d="M250.7 257.4L302.6 206.1" stroke-opacity="0.17" stroke-width="0.9"/><path d="M246.3 267.6L245.8 296.1" stroke-opacity="0.08" stroke-width="0.9"/><path d="M247.8 255.8L265.1 183.4" stroke-opacity="0.14" stroke-width="1.3"/><path d="M249.8 266.6L291.2 327.8" stroke-opacity="0.08" stroke-width="1.3"/><path d="M246.8 255.6L251.3 187.6" stroke-opacity="0.16" stroke-width="1.3"/><path d="M245.7 255.6L238.4 198.4" stroke-opacity="0.15" stroke-width="1.4"/><path d="M249.9 266.5L289.7 322.4" stroke-opacity="0.08" stroke-width="1.2"/><path d="M243.9 267.1L236.0 284.4" stroke-opacity="0.16" stroke-width="1.5"/><path d="M248.1 255.8L272.2 173.0" stroke-opacity="0.08" stroke-width="1.2"/><path d="M244.2 267.2L236.9 285.4" stroke-opacity="0.17" stroke-width="1.1"/><path d="M248.0 267.4L261.7 315.1" stroke-opacity="0.06" stroke-width="1.3"/><path d="M244.5 267.3L238.1 286.8" stroke-opacity="0.11" stroke-width="1.2"/><path d="M251.4 264.9L329.5 317.1" stroke-opacity="0.19" stroke-width="1.0"/><path d="M249.0 267.0L284.3 339.1" stroke-opacity="0.07" stroke-width="1.5"/><path d="M249.4 256.4L286.6 191.6" stroke-opacity="0.13" stroke-width="1.4"/><path d="M244.1 267.1L236.6 285.1" stroke-opacity="0.18" stroke-width="1.5"/><path d="M248.8 256.1L277.8 187.8" stroke-opacity="0.18" stroke-width="1.0"/><path d="M240.4 262.1L175.6 267.4" stroke-opacity="0.06" stroke-width="1.3"/><path d="M250.6 265.9L302.0 317.6" stroke-opacity="0.08" stroke-width="1.2"/><path d="M247.8 255.8L261.4 196.9" stroke-opacity="0.08" stroke-width="1.1"/><path d="M240.5 262.8L184.2 274.6" stroke-opacity="0.09" stroke-width="1.0"/><path d="M244.6 267.3L238.5 287.3" stroke-opacity="0.13" stroke-width="1.1"/><path d="M252.3 262.5L362.2 279.6" stroke-opacity="0.16" stroke-width="1.1"/><path d="M249.4 266.8L299.3 353.6" stroke-opacity="0.07" stroke-width="1.5"/></g><g stroke="url(#sk)" fill="none"><path d="M250.9 257.7L308.4 207.7" stroke-opacity="0.19" stroke-width="1.5"/><path d="M252.2 260.3L338.6 240.4" stroke-opacity="0.16" stroke-width="1.2"/><path d="M245.7 255.6L237.7 184.8" stroke-opacity="0.06" stroke-width="0.9"/><path d="M247.9 255.8L268.4 179.2" stroke-opacity="0.15" stroke-width="1.1"/><path d="M247.1 255.6L254.5 194.8" stroke-opacity="0.13" stroke-width="0.9"/><path d="M252.4 261.1L330.1 255.0" stroke-opacity="0.06" stroke-width="1.3"/><path d="M251.3 265.0L327.3 317.2" stroke-opacity="0.14" stroke-width="1.3"/><path d="M250.1 266.3L309.4 341.3" stroke-opacity="0.20" stroke-width="1.0"/><path d="M240.5 262.6L195.0 270.6" stroke-opacity="0.13" stroke-width="1.3"/><path d="M250.6 265.9L311.8 328.5" stroke-opacity="0.20" stroke-width="1.5"/><path d="M247.8 267.4L257.7 310.3" stroke-opacity="0.08" stroke-width="1.4"/><path d="M240.5 262.8L193.3 272.5" stroke-opacity="0.20" stroke-width="1.6"/><path d="M245.0 267.4L239.9 289.0" stroke-opacity="0.10" stroke-width="1.5"/><path d="M251.3 265.1L308.1 305.6" stroke-opacity="0.12" stroke-width="1.3"/><path d="M246.9 267.6L249.5 300.5" stroke-opacity="0.19" stroke-width="0.9"/><path d="M245.8 267.6L243.1 292.9" stroke-opacity="0.19" stroke-width="1.4"/><path d="M246.7 267.6L248.1 298.9" stroke-opacity="0.06" stroke-width="1.1"/><path d="M252.2 263.1L350.0 288.3" stroke-opacity="0.16" stroke-width="1.3"/><path d="M244.2 267.2L237.0 285.5" stroke-opacity="0.11" stroke-width="1.5"/><path d="M252.2 260.0L354.3 232.6" stroke-opacity="0.21" stroke-width="1.3"/><path d="M245.3 255.7L231.3 183.8" stroke-opacity="0.12" stroke-width="1.5"/><path d="M246.7 267.6L248.5 299.3" stroke-opacity="0.06" stroke-width="1.3"/><path d="M248.8 267.1L279.6 336.5" stroke-opacity="0.20" stroke-width="1.2"/><path d="M252.0 259.4L326.8 230.6" stroke-opacity="0.21" stroke-width="1.0"/><path d="M247.3 255.7L256.3 193.2" stroke-opacity="0.09" stroke-width="1.4"/><path d="M246.0 267.6L244.3 294.2" stroke-opacity="0.08" stroke-width="1.3"/><path d="M246.3 255.6L245.5 170.6" stroke-opacity="0.07" stroke-width="1.1"/><path d="M252.4 262.0L328.5 266.5" stroke-opacity="0.19" stroke-width="1.2"/><path d="M240.9 264.1L175.8 293.5" stroke-opacity="0.21" stroke-width="1.0"/><path d="M251.9 259.2L312.9 232.6" stroke-opacity="0.19" stroke-width="1.6"/><path d="M249.8 256.6L284.6 205.6" stroke-opacity="0.21" stroke-width="1.2"/><path d="M251.7 264.4L325.9 303.3" stroke-opacity="0.14" stroke-width="1.2"/><path d="M246.9 255.6L253.5 176.8" stroke-opacity="0.19" stroke-width="1.0"/><path d="M242.7 256.9L194.0 195.6" stroke-opacity="0.17" stroke-width="1.5"/><path d="M249.8 266.6L299.8 339.7" stroke-opacity="0.14" stroke-width="1.6"/><path d="M252.4 261.9L360.4 267.5" stroke-opacity="0.18" stroke-width="1.4"/><path d="M249.8 266.6L305.3 349.0" stroke-opacity="0.20" stroke-width="1.4"/><path d="M249.7 266.6L301.7 343.8" stroke-opacity="0.06" stroke-width="1.1"/><path d="M244.4 256.0L217.8 182.6" stroke-opacity="0.11" stroke-width="1.4"/><path d="M245.2 267.5L240.5 289.7" stroke-opacity="0.22" stroke-width="1.3"/><path d="M252.4 261.6L360.3 262.2" stroke-opacity="0.14" stroke-width="1.3"/><path d="M246.6 267.6L247.4 298.0" stroke-opacity="0.06" stroke-width="1.6"/><path d="M245.4 267.5L241.4 290.8" stroke-opacity="0.11" stroke-width="1.1"/><path d="M252.4 261.4L326.4 259.1" stroke-opacity="0.08" stroke-width="1.4"/><path d="M242.8 256.8L196.7 195.4" stroke-opacity="0.06" stroke-width="1.6"/><path d="M249.1 256.2L287.2 179.7" stroke-opacity="0.12" stroke-width="1.2"/><path d="M252.4 261.4L345.2 257.7" stroke-opacity="0.21" stroke-width="1.4"/><path d="M245.6 255.7L234.6 173.7" stroke-opacity="0.15" stroke-width="1.0"/><path d="M248.5 267.2L270.4 325.5" stroke-opacity="0.13" stroke-width="1.1"/><path d="M249.3 266.8L295.4 350.1" stroke-opacity="0.14" stroke-width="1.6"/><path d="M240.4 262.2L191.8 267.0" stroke-opacity="0.07" stroke-width="1.5"/><path d="M251.0 265.4L310.4 314.0" stroke-opacity="0.17" stroke-width="1.3"/><path d="M252.0 259.4L315.2 234.3" stroke-opacity="0.22" stroke-width="1.5"/><path d="M247.9 255.8L262.3 198.7" stroke-opacity="0.10" stroke-width="1.2"/><path d="M250.0 256.8L296.6 194.7" stroke-opacity="0.06" stroke-width="1.0"/><path d="M252.2 260.2L338.9 239.8" stroke-opacity="0.09" stroke-width="1.5"/><path d="M246.0 255.6L241.4 188.5" stroke-opacity="0.14" stroke-width="1.4"/><path d="M249.2 256.3L278.5 199.7" stroke-opacity="0.16" stroke-width="1.0"/><path d="M240.5 262.5L181.2 271.9" stroke-opacity="0.10" stroke-width="1.0"/><path d="M240.5 262.5L189.1 270.3" stroke-opacity="0.07" stroke-width="1.4"/><path d="M243.5 256.4L203.1 184.4" stroke-opacity="0.21" stroke-width="1.2"/><path d="M252.0 263.6L331.9 292.2" stroke-opacity="0.12" stroke-width="1.6"/><path d="M252.4 261.5L339.0 260.6" stroke-opacity="0.11" stroke-width="1.2"/><path d="M250.3 266.2L298.3 322.4" stroke-opacity="0.15" stroke-width="1.5"/><path d="M247.2 255.7L257.4 183.1" stroke-opacity="0.14" stroke-width="1.3"/><path d="M252.4 261.4L333.4 259.1" stroke-opacity="0.18" stroke-width="1.3"/><path d="M250.1 266.3L298.8 328.6" stroke-opacity="0.21" stroke-width="1.4"/><path d="M245.0 267.4L239.9 289.0" stroke-opacity="0.17" stroke-width="1.5"/><path d="M242.5 257.0L189.1 193.5" stroke-opacity="0.16" stroke-width="1.3"/><path d="M249.2 266.9L288.1 339.2" stroke-opacity="0.07" stroke-width="1.4"/><path d="M245.3 255.7L234.1 197.9" stroke-opacity="0.10" stroke-width="1.0"/><path d="M251.8 259.0L307.7 232.5" stroke-opacity="0.13" stroke-width="1.3"/><path d="M251.7 258.8L326.6 219.2" stroke-opacity="0.10" stroke-width="1.3"/><path d="M247.2 267.6L251.8 303.3" stroke-opacity="0.20" stroke-width="1.5"/><path d="M244.5 255.9L217.8 178.1" stroke-opacity="0.12" stroke-width="1.3"/><path d="M247.4 267.5L254.1 306.0" stroke-opacity="0.19" stroke-width="1.4"/><path d="M251.4 258.3L305.7 222.6" stroke-opacity="0.10" stroke-width="1.1"/><path d="M245.8 267.6L243.2 293.0" stroke-opacity="0.22" stroke-width="1.1"/><path d="M251.3 258.1L320.4 208.3" stroke-opacity="0.05" stroke-width="1.5"/><path d="M249.4 256.4L281.8 199.5" stroke-opacity="0.17" stroke-width="1.0"/><path d="M247.6 267.5L255.6 307.8" stroke-opacity="0.15" stroke-width="1.5"/><path d="M244.8 267.4L239.0 288.0" stroke-opacity="0.08" stroke-width="1.5"/><path d="M252.0 263.8L321.9 291.9" stroke-opacity="0.10" stroke-width="1.2"/><path d="M251.0 265.4L321.9 323.8" stroke-opacity="0.07" stroke-width="1.2"/><path d="M245.2 255.7L228.0 174.4" stroke-opacity="0.16" stroke-width="0.9"/><path d="M252.4 261.1L346.6 253.7" stroke-opacity="0.13" stroke-width="0.9"/><path d="M252.2 260.0L345.2 234.1" stroke-opacity="0.10" stroke-width="1.2"/></g></g>
<circle cx="246.4" cy="261.6" r="4.4" fill="#555"/>
<circle cx="125.5" cy="428.8" r="2.6" fill="#fff" fill-opacity="0.85" filter="url(#hb)"/><path fill="#ddd" d="M212.5 145.5l1.5-0.5 0.8 2.2-1.5 0.8z"/>
<path fill="#fff" stroke="#fff" stroke-width="1" fill-opacity="0.55" stroke-opacity="0.45" filter="url(#hb)" d="M83.2 275.1 86.6 275.1 87.3 280.6 86.2 287.2 86.6 296.1 88.8 302.7 92.8 306.4 93.5 308.2 92.1 309.3 86.2 307.9 82.5 304.9 81.8 298.3 79.6 293.9 79.9 290.2 82.5 286.5 84.0 282.1 83.2 277.7 ZM103.8 304.2 107.3 305.1 110.4 307.3 112.2 310.8 112.6 314.3 110.9 315.7 108.7 316.5 107.8 313.5 107.8 309.9 106.5 307.3 103.8 305.6 ZM84.5 328.4 88.0 326.6 92.9 327.1 95.9 329.7 98.1 333.6 100.8 338.0 98.6 339.8 97.3 343.3 95.1 343.3 94.6 339.3 91.6 335.4 88.9 331.4 85.4 329.7 ZM103.0 338.0 107.3 335.4 110.0 337.1 111.7 342.4 114.4 345.0 113.5 347.2 110.0 348.1 107.3 347.2 104.7 341.5 102.5 339.8 ZM283.3 338.5 287.4 337.2 290.6 339.5 293.8 344.5 291.9 345.8 289.7 347.7 288.3 351.3 287.8 358.6 287.8 366.8 284.6 362.3 282.8 354.1 282.8 346.8 284.2 342.2 ZM296.5 347.7 298.8 346.8 302.4 350.4 305.2 352.2 307.9 347.7 315.7 346.8 320.2 344.5 324.8 346.8 329.4 351.8 324.8 351.3 321.1 353.6 317.5 354.1 314.8 353.1 312.9 355.9 312.0 363.2 311.1 365.0 309.3 360.4 307.5 356.8 302.9 356.3 298.3 354.1 296.5 350.4 Z"/>
<path fill="#ffff00" d="M84.8 274.8 88.2 274.8 88.9 280.3 87.8 286.9 88.2 295.8 90.4 302.4 94.4 306.1 95.1 307.9 93.7 309.0 87.8 307.6 84.1 304.6 83.4 298.0 81.2 293.6 81.5 289.9 84.1 286.2 85.6 281.8 84.8 277.4 ZM105.4 303.9 108.9 304.8 112.0 307.0 113.8 310.5 114.2 314.0 112.5 315.4 110.3 316.2 109.4 313.2 109.4 309.6 108.1 307.0 105.4 305.3 ZM86.1 328.1 89.6 326.3 94.5 326.8 97.5 329.4 99.7 333.3 102.4 337.7 100.2 339.5 98.9 343.0 96.7 343.0 96.2 339.0 93.2 335.1 90.5 331.1 87.0 329.4 ZM104.6 337.7 108.9 335.1 111.6 336.8 113.3 342.1 116.0 344.7 115.1 346.9 111.6 347.8 108.9 346.9 106.3 341.2 104.1 339.5 ZM240.8 276.8 243.7 280.3 247.1 284.8 250.0 290.5 251.7 294.0 254.0 299.7 256.8 305.4 260.3 304.2 261.4 308.8 264.2 312.2 267.1 317.9 270.0 321.4 271.7 327.1 269.4 327.1 266.5 321.4 262.0 316.8 257.4 311.1 254.0 306.5 251.1 300.8 248.3 295.1 243.7 289.4 238.6 286.0 236.3 284.8 237.4 281.4 239.1 278.6 ZM273.0 330.5 274.8 329.8 278.2 337.5 276.6 340.3 ZM276.5 329.5 278.5 327.5 281.0 333.5 279.2 334.8 ZM279.5 327.0 281.5 325.5 283.2 331.0 281.8 332.5 ZM268.5 320.5 270.2 320.2 272.0 325.5 270.5 326.5 ZM284.9 338.2 289.0 336.9 292.2 339.2 295.4 344.2 293.5 345.5 291.3 347.4 289.9 351.0 289.4 358.3 289.4 366.5 286.2 362.0 284.4 353.8 284.4 346.5 285.8 341.9 ZM298.1 347.4 300.4 346.5 304.0 350.1 306.8 351.9 309.5 347.4 317.3 346.5 321.8 344.2 326.4 346.5 331.0 351.5 326.4 351.0 322.7 353.3 319.1 353.8 316.4 352.8 314.5 355.6 313.6 362.9 312.7 364.7 310.9 360.1 309.1 356.5 304.5 356.0 299.9 353.8 298.1 350.1 Z"/>
<path fill="none" stroke="#fff" stroke-width="2.4" stroke-linecap="round" d="M241.5 280.5L247.5 289.5M253 304L257.5 311M262 313.5L265 318"/>
<path fill="none" stroke="#ffff00" stroke-width="1.6" d="M305.8 237.4 312.6 234.5M204.5 320.4 212.2 309.8M230.5 283.7 237.3 276.0M249.8 254.7 251.8 250.9M239.0 259.5 242.0 260.8"/>
<path fill="none" stroke="#ffff00" stroke-width="1.3" stroke-dasharray="1.4 1.6" d="M97.1 322.8L108.9 317.1"/>
<path d="M58.8 179.4 69.1 179.4 70.9 177.4 72.4 174 74.3 173.2 81.8 176.9 88.1 180.9 99 177.4 110.5 172.3 126.6 162.3 127.5 155 130.6 154.1 131 149.3 132.9 147.6 130.6 143.8 127.8 145.3 125.5 142.4 127.8 140.1 128.9 136.1 130.6 134.6 153.1 133.2 154 145.8 158.4 145.3 162.1 146.2 163.6 139.3 161.3 138.1 162.4 134.1 165.9 133.8 168.2 131.5 172.2 135.6 177.9 135.8 185.4 139.1 190.6 137 197.5 137.6 203.2 139.5 205.5 142.7 209 143.3 213.6 141.4 220.5 141.6 223 138.9 223.7 136.8 225.8 135.7 227.9 138.2 230.4 138.2 233.9 135.4 234.6 132.5 238.1 136.1 240.6 135.4 243.7 131.1 239.2 131.1 242.7 128.7 246.2 126.2 248.6 125.5 250 127.1 253.9 124.5 255.6 123.1 253.9 126.2 256.7 128 260.2 127.3 260.9 124.5 262.7 122.7 263 116.4 270.7 117.1 271.1 121.3 274.1 121.5 276.3 119.7 277.1 121.9 279.8 122.8 282 129.8 282.4 133.3 282.8 138.2 277.6 138.6 274.9 137.3 277.6 145.6 285 143 284.6 140.4 289.9 145.2 294.2 143 292.5 138.6 294.2 137.3 295.6 140.8 305.2 136 301.7 128.9 294.2 132.5 286.8 128.9 294.2 125.9 287.2 109.6 298.6 104.4 309.2 123.7 312.2 123.7 312.2 125.9 307.4 128.5 309.2 132.5 318.8 128.1 313.5 116.7 314.4 114.9 319.7 117.1 319.2 120.2 324.9 116.2 322.3 111.4 311.4 102.9 317.6 96.3 332.5 108.2 337.7 101.1 335.1 98.5 332.5 100.7 320.2 90.2 323.3 81.4 329.9 78.8 350.9 85.4 351.8 83.2 352.2 75.3 352.2 72M98.5 72 98.5 75 93.3 80.9 91 84.3 92.1 90.1 91.6 95.8 95 98.1 96.7 102.7 101.3 110.6 108.2 111.4 111.9 108.3 114.5 109.1 117.4 107.3 120.9 106.8 122.6 102.7 122.6 99.3 125.5 98.1 127.8 97.6 128.3 94.1 130.6 90.7 134.1 90.1 132.4 87.2 132.9 82.6 131.8 78.6 131.8 72" fill="none" stroke="#fff" stroke-width="1.2" stroke-linejoin="round"/>
<path d="M249 115 249.7 117.5M344.3 75 345.8 79 347.8 78.5 348.8 75.5M85.8 85.3 87.3 84.8" fill="none" stroke="#fff" stroke-width="1.5" stroke-linejoin="round" stroke-linecap="round"/>
</g>
<g clip-path="url(#cr)">
<path fill="#000088" d="M659.4 201.9h1.6v1.6h-1.6zM641.9 203.1h1.6v1.6h-1.6zM660.6 203.1h1.6v1.6h-1.6zM658.2 204.3h1.6v1.6h-1.6zM660.6 204.3h1.6v1.6h-1.6zM658.2 205.4h2.8v1.6h-2.8zM644.2 206.6h2.8v1.6h-2.8zM654.7 206.6h1.6v1.6h-1.6zM659.4 206.6h2.8v1.6h-2.8zM643.0 207.8h1.6v1.6h-1.6zM646.5 207.8h1.6v1.6h-1.6zM655.9 207.8h1.6v1.6h-1.6zM659.4 207.8h2.8v1.6h-2.8zM668.8 207.8h2.8v1.6h-2.8zM645.4 209.0h4.0v1.6h-4.0zM657.1 209.0h5.1v1.6h-5.1zM662.9 209.0h2.8v1.6h-2.8zM668.8 209.0h1.6v1.6h-1.6zM644.2 210.1h5.1v1.6h-5.1zM657.1 210.1h8.6v1.6h-8.6zM667.6 210.1h2.8v1.6h-2.8zM657.1 211.3h6.3v1.6h-6.3zM664.1 211.3h1.6v1.6h-1.6zM667.6 211.3h1.6v1.6h-1.6zM653.6 212.5h1.6v1.6h-1.6zM657.1 212.5h5.1v1.6h-5.1zM662.9 212.5h2.8v1.6h-2.8zM657.1 213.6h5.1v1.6h-5.1zM662.9 213.6h1.6v1.6h-1.6zM658.2 214.8h2.8v1.6h-2.8zM661.8 214.8h4.0v1.6h-4.0zM658.2 216.0h7.5v1.6h-7.5zM658.2 217.1h7.5v1.6h-7.5zM673.5 217.1h1.6v1.6h-1.6zM658.2 218.3h5.1v1.6h-5.1zM664.1 218.3h1.6v1.6h-1.6zM658.2 219.5h4.0v1.6h-4.0zM664.1 219.5h1.6v1.6h-1.6zM661.8 220.7h1.6v1.6h-1.6zM664.1 220.7h1.6v1.6h-1.6zM661.8 221.8h7.5v1.6h-7.5zM660.6 223.0h1.6v1.6h-1.6zM664.1 223.0h2.8v1.6h-2.8zM671.1 223.0h1.6v1.6h-1.6zM659.4 224.2h2.8v1.6h-2.8zM664.1 224.2h4.0v1.6h-4.0zM668.8 224.2h1.6v1.6h-1.6zM671.1 224.2h2.8v1.6h-2.8zM679.3 224.2h1.6v1.6h-1.6zM659.4 225.3h1.6v1.6h-1.6zM661.8 225.3h1.6v1.6h-1.6zM664.1 225.3h8.6v1.6h-8.6zM673.5 225.3h1.6v1.6h-1.6zM679.3 225.3h1.6v1.6h-1.6zM658.2 226.5h2.8v1.6h-2.8zM661.8 226.5h1.6v1.6h-1.6zM664.1 226.5h2.8v1.6h-2.8zM669.9 226.5h2.8v1.6h-2.8zM673.5 226.5h1.6v1.6h-1.6zM660.6 227.7h2.8v1.6h-2.8zM664.1 227.7h5.1v1.6h-5.1zM669.9 227.7h1.6v1.6h-1.6zM659.4 228.8h1.6v1.6h-1.6zM661.8 228.8h7.5v1.6h-7.5zM661.8 230.0h7.5v1.6h-7.5zM669.9 230.0h1.6v1.6h-1.6zM659.4 231.2h6.3v1.6h-6.3zM666.4 231.2h1.6v1.6h-1.6zM668.8 231.2h1.6v1.6h-1.6zM651.2 232.4h1.6v1.6h-1.6zM657.1 232.4h4.0v1.6h-4.0zM668.8 232.4h2.8v1.6h-2.8zM672.3 232.4h1.6v1.6h-1.6zM658.2 233.5h2.8v1.6h-2.8zM661.8 233.5h2.8v1.6h-2.8zM668.8 233.5h5.1v1.6h-5.1zM660.6 234.7h1.6v1.6h-1.6zM669.9 234.7h2.8v1.6h-2.8zM674.6 234.7h1.6v1.6h-1.6zM659.4 235.9h1.6v1.6h-1.6zM666.4 235.9h1.6v1.6h-1.6zM668.8 235.9h2.8v1.6h-2.8zM672.3 235.9h4.0v1.6h-4.0zM665.3 237.0h6.3v1.6h-6.3zM672.3 237.0h1.6v1.6h-1.6zM666.4 238.2h5.1v1.6h-5.1zM665.3 239.4h4.0v1.6h-4.0zM669.9 239.4h2.8v1.6h-2.8zM665.3 240.5h6.3v1.6h-6.3zM665.3 241.7h2.8v1.6h-2.8zM664.1 242.9h4.0v1.6h-4.0zM665.3 244.1h6.3v1.6h-6.3zM666.4 245.2h1.6v1.6h-1.6zM665.3 246.4h4.0v1.6h-4.0zM669.9 246.4h1.6v1.6h-1.6zM666.4 247.6h2.8v1.6h-2.8zM665.3 248.7h2.8v1.6h-2.8zM666.4 249.9h1.6v1.6h-1.6zM666.4 251.1h1.6v1.6h-1.6zM665.3 252.2h4.0v1.6h-4.0zM666.4 253.4h1.6v1.6h-1.6zM666.4 254.6h2.8v1.6h-2.8zM666.4 255.8h1.6v1.6h-1.6z"/>
<path fill="#000070" d="M681.6 204.3h1.6v1.6h-1.6zM680.5 205.4h1.6v1.6h-1.6zM671.1 206.6h1.6v1.6h-1.6zM679.3 206.6h2.8v1.6h-2.8zM671.1 207.8h4.0v1.6h-4.0zM679.3 207.8h4.0v1.6h-4.0zM669.9 209.0h5.1v1.6h-5.1zM678.1 209.0h5.1v1.6h-5.1zM671.1 210.1h4.0v1.6h-4.0zM680.5 210.1h2.8v1.6h-2.8zM669.9 211.3h5.1v1.6h-5.1zM679.3 211.3h1.6v1.6h-1.6zM681.6 211.3h1.6v1.6h-1.6zM669.9 212.5h2.8v1.6h-2.8zM673.5 212.5h2.8v1.6h-2.8zM667.6 213.6h7.5v1.6h-7.5zM678.1 213.6h1.6v1.6h-1.6zM667.6 214.8h7.5v1.6h-7.5zM677.0 214.8h1.6v1.6h-1.6zM667.6 216.0h7.5v1.6h-7.5zM677.0 216.0h4.0v1.6h-4.0zM667.6 217.1h1.6v1.6h-1.6zM669.9 217.1h1.6v1.6h-1.6zM672.3 217.1h1.6v1.6h-1.6zM677.0 217.1h4.0v1.6h-4.0zM667.6 218.3h5.1v1.6h-5.1zM673.5 218.3h1.6v1.6h-1.6zM677.0 218.3h4.0v1.6h-4.0zM667.6 219.5h7.5v1.6h-7.5zM675.8 219.5h5.1v1.6h-5.1zM666.4 220.7h1.6v1.6h-1.6zM668.8 220.7h13.3v1.6h-13.3zM668.8 221.8h5.1v1.6h-5.1zM674.6 221.8h7.5v1.6h-7.5zM667.6 223.0h4.0v1.6h-4.0zM672.3 223.0h11.0v1.6h-11.0zM667.6 224.2h1.6v1.6h-1.6zM669.9 224.2h1.6v1.6h-1.6zM673.5 224.2h6.3v1.6h-6.3zM680.5 224.2h1.6v1.6h-1.6zM682.8 224.2h1.6v1.6h-1.6zM672.3 225.3h1.6v1.6h-1.6zM674.6 225.3h5.1v1.6h-5.1zM680.5 225.3h2.8v1.6h-2.8zM666.4 226.5h4.0v1.6h-4.0zM672.3 226.5h1.6v1.6h-1.6zM674.6 226.5h7.5v1.6h-7.5zM668.8 227.7h1.6v1.6h-1.6zM671.1 227.7h6.3v1.6h-6.3zM668.8 228.8h8.6v1.6h-8.6zM668.8 230.0h1.6v1.6h-1.6zM671.1 230.0h7.5v1.6h-7.5zM669.9 231.2h9.8v1.6h-9.8zM671.1 232.4h1.6v1.6h-1.6zM673.5 232.4h5.1v1.6h-5.1zM679.3 232.4h1.6v1.6h-1.6zM673.5 233.5h7.5v1.6h-7.5zM672.3 234.7h2.8v1.6h-2.8zM675.8 234.7h5.1v1.6h-5.1zM671.1 235.9h1.6v1.6h-1.6zM675.8 235.9h1.6v1.6h-1.6zM671.1 237.0h1.6v1.6h-1.6zM673.5 237.0h5.1v1.6h-5.1zM671.1 238.2h5.1v1.6h-5.1zM668.8 239.4h1.6v1.6h-1.6zM672.3 239.4h4.0v1.6h-4.0zM671.1 240.5h1.6v1.6h-1.6zM673.5 240.5h1.6v1.6h-1.6zM667.6 241.7h5.1v1.6h-5.1zM667.6 242.9h7.5v1.6h-7.5zM671.1 244.1h2.8v1.6h-2.8zM667.6 245.2h7.5v1.6h-7.5zM668.8 246.4h1.6v1.6h-1.6zM671.1 246.4h1.6v1.6h-1.6zM668.8 247.6h4.0v1.6h-4.0zM667.6 248.7h4.0v1.6h-4.0zM667.6 249.9h4.0v1.6h-4.0zM667.6 251.1h4.0v1.6h-4.0zM668.8 252.2h2.8v1.6h-2.8zM667.6 253.4h2.8v1.6h-2.8zM667.6 255.8h1.6v1.6h-1.6z"/>
<path fill="#0000aa" d="M644.2 205.4h1.6v1.6h-1.6zM660.6 205.4h1.6v1.6h-1.6zM644.2 207.8h1.6v1.6h-1.6zM644.2 209.0h1.6v1.6h-1.6zM643.0 210.1h1.6v1.6h-1.6zM640.7 211.3h8.6v1.6h-8.6zM662.9 211.3h1.6v1.6h-1.6zM636.0 212.5h1.6v1.6h-1.6zM639.5 212.5h2.8v1.6h-2.8zM643.0 212.5h1.6v1.6h-1.6zM645.4 212.5h1.6v1.6h-1.6zM650.1 212.5h4.0v1.6h-4.0zM661.8 212.5h1.6v1.6h-1.6zM634.8 213.6h1.6v1.6h-1.6zM637.2 213.6h2.8v1.6h-2.8zM651.2 213.6h1.6v1.6h-1.6zM653.6 213.6h1.6v1.6h-1.6zM661.8 213.6h1.6v1.6h-1.6zM638.4 214.8h4.0v1.6h-4.0zM650.1 214.8h5.1v1.6h-5.1zM636.0 216.0h8.6v1.6h-8.6zM651.2 216.0h2.8v1.6h-2.8zM654.7 216.0h1.6v1.6h-1.6zM638.4 217.1h6.3v1.6h-6.3zM648.9 217.1h1.6v1.6h-1.6zM652.4 217.1h5.1v1.6h-5.1zM634.8 218.3h2.8v1.6h-2.8zM639.5 218.3h1.6v1.6h-1.6zM641.9 218.3h4.0v1.6h-4.0zM650.1 218.3h6.3v1.6h-6.3zM657.1 218.3h1.6v1.6h-1.6zM662.9 218.3h1.6v1.6h-1.6zM636.0 219.5h4.0v1.6h-4.0zM644.2 219.5h1.6v1.6h-1.6zM651.2 219.5h1.6v1.6h-1.6zM653.6 219.5h5.1v1.6h-5.1zM661.8 219.5h2.8v1.6h-2.8zM640.7 220.7h2.8v1.6h-2.8zM648.9 220.7h2.8v1.6h-2.8zM652.4 220.7h9.8v1.6h-9.8zM662.9 220.7h1.6v1.6h-1.6zM652.4 221.8h9.8v1.6h-9.8zM651.2 223.0h1.6v1.6h-1.6zM653.6 223.0h1.6v1.6h-1.6zM655.9 223.0h5.1v1.6h-5.1zM661.8 223.0h2.8v1.6h-2.8zM652.4 224.2h1.6v1.6h-1.6zM657.1 224.2h2.8v1.6h-2.8zM661.8 224.2h2.8v1.6h-2.8zM654.7 225.3h1.6v1.6h-1.6zM657.1 225.3h2.8v1.6h-2.8zM660.6 225.3h1.6v1.6h-1.6zM662.9 225.3h1.6v1.6h-1.6zM651.2 226.5h1.6v1.6h-1.6zM655.9 226.5h2.8v1.6h-2.8zM660.6 226.5h1.6v1.6h-1.6zM662.9 226.5h1.6v1.6h-1.6zM657.1 227.7h4.0v1.6h-4.0zM662.9 227.7h1.6v1.6h-1.6zM651.2 228.8h1.6v1.6h-1.6zM657.1 228.8h2.8v1.6h-2.8zM660.6 228.8h1.6v1.6h-1.6zM650.1 230.0h4.0v1.6h-4.0zM655.9 230.0h6.3v1.6h-6.3zM647.7 231.2h12.1v1.6h-12.1zM665.3 231.2h1.6v1.6h-1.6zM667.6 231.2h1.6v1.6h-1.6zM648.9 232.4h2.8v1.6h-2.8zM652.4 232.4h5.1v1.6h-5.1zM660.6 232.4h8.6v1.6h-8.6zM647.7 233.5h11.0v1.6h-11.0zM660.6 233.5h1.6v1.6h-1.6zM664.1 233.5h5.1v1.6h-5.1zM648.9 234.7h5.1v1.6h-5.1zM654.7 234.7h6.3v1.6h-6.3zM661.8 234.7h8.6v1.6h-8.6zM645.4 235.9h1.6v1.6h-1.6zM648.9 235.9h1.6v1.6h-1.6zM651.2 235.9h1.6v1.6h-1.6zM654.7 235.9h1.6v1.6h-1.6zM657.1 235.9h2.8v1.6h-2.8zM660.6 235.9h6.3v1.6h-6.3zM667.6 235.9h1.6v1.6h-1.6zM645.4 237.0h1.6v1.6h-1.6zM651.2 237.0h14.5v1.6h-14.5zM657.1 238.2h9.8v1.6h-9.8zM651.2 239.4h1.6v1.6h-1.6zM653.6 239.4h2.8v1.6h-2.8zM657.1 239.4h8.6v1.6h-8.6zM650.1 240.5h1.6v1.6h-1.6zM654.7 240.5h1.6v1.6h-1.6zM658.2 240.5h7.5v1.6h-7.5zM651.2 241.7h4.0v1.6h-4.0zM655.9 241.7h9.8v1.6h-9.8zM653.6 242.9h1.6v1.6h-1.6zM657.1 242.9h1.6v1.6h-1.6zM659.4 242.9h5.1v1.6h-5.1zM658.2 244.1h7.5v1.6h-7.5zM655.9 245.2h1.6v1.6h-1.6zM659.4 245.2h7.5v1.6h-7.5zM659.4 246.4h2.8v1.6h-2.8zM662.9 246.4h2.8v1.6h-2.8zM654.7 247.6h1.6v1.6h-1.6zM660.6 247.6h1.6v1.6h-1.6zM664.1 247.6h2.8v1.6h-2.8zM654.7 248.7h1.6v1.6h-1.6zM658.2 248.7h2.8v1.6h-2.8zM664.1 248.7h1.6v1.6h-1.6zM658.2 249.9h2.8v1.6h-2.8zM664.1 249.9h2.8v1.6h-2.8zM664.1 251.1h2.8v1.6h-2.8zM659.4 252.2h4.0v1.6h-4.0zM664.1 252.2h1.6v1.6h-1.6zM659.4 253.4h1.6v1.6h-1.6zM664.1 253.4h2.8v1.6h-2.8zM665.3 254.6h1.6v1.6h-1.6zM665.3 255.8h1.6v1.6h-1.6z"/>
<path fill="#000044" d="M674.6 209.0h1.6v1.6h-1.6zM674.6 211.3h1.6v1.6h-1.6zM678.1 211.3h1.6v1.6h-1.6zM680.5 211.3h1.6v1.6h-1.6zM682.8 211.3h1.6v1.6h-1.6zM678.1 212.5h5.1v1.6h-5.1zM679.3 213.6h4.0v1.6h-4.0zM678.1 214.8h6.3v1.6h-6.3zM687.5 214.8h1.6v1.6h-1.6zM680.5 216.0h2.8v1.6h-2.8zM685.1 216.0h1.6v1.6h-1.6zM680.5 217.1h7.5v1.6h-7.5zM680.5 218.3h6.3v1.6h-6.3zM680.5 219.5h6.3v1.6h-6.3zM688.7 219.5h1.6v1.6h-1.6zM681.6 220.7h4.0v1.6h-4.0zM681.6 221.8h4.0v1.6h-4.0zM682.8 223.0h1.6v1.6h-1.6zM686.3 224.2h1.6v1.6h-1.6zM682.8 226.5h2.8v1.6h-2.8zM677.0 227.7h4.0v1.6h-4.0zM681.6 227.7h1.6v1.6h-1.6zM684.0 227.7h1.6v1.6h-1.6zM677.0 228.8h7.5v1.6h-7.5zM678.1 230.0h2.8v1.6h-2.8zM681.6 230.0h1.6v1.6h-1.6zM679.3 231.2h2.8v1.6h-2.8zM678.1 232.4h1.6v1.6h-1.6zM680.5 232.4h1.6v1.6h-1.6zM677.0 235.9h4.0v1.6h-4.0zM678.1 237.0h1.6v1.6h-1.6zM675.8 238.2h2.8v1.6h-2.8zM675.8 239.4h2.8v1.6h-2.8zM672.3 240.5h1.6v1.6h-1.6zM674.6 240.5h2.8v1.6h-2.8zM672.3 241.7h5.1v1.6h-5.1zM674.6 242.9h1.6v1.6h-1.6zM673.5 244.1h2.8v1.6h-2.8zM672.3 246.4h2.8v1.6h-2.8zM672.3 247.6h1.6v1.6h-1.6zM671.1 248.7h2.8v1.6h-2.8zM671.1 249.9h1.6v1.6h-1.6zM671.1 251.1h1.6v1.6h-1.6zM669.9 253.4h1.6v1.6h-1.6zM668.8 254.6h1.6v1.6h-1.6zM668.8 255.8h1.6v1.6h-1.6zM659.4 278.0h2.8v1.6h-2.8zM659.4 279.2h4.0v1.6h-4.0zM659.4 280.3h4.0v1.6h-4.0zM660.6 281.5h4.0v1.6h-4.0zM661.8 282.7h4.0v1.6h-4.0zM661.8 283.8h5.1v1.6h-5.1zM662.9 285.0h4.0v1.6h-4.0zM664.1 286.2h4.0v1.6h-4.0zM665.3 287.3h4.0v1.6h-4.0zM665.3 288.5h5.1v1.6h-5.1zM666.4 289.7h4.0v1.6h-4.0zM667.6 290.9h4.0v1.6h-4.0zM668.8 292.0h4.0v1.6h-4.0zM668.8 293.2h5.1v1.6h-5.1zM669.9 294.4h4.0v1.6h-4.0zM671.1 295.5h4.0v1.6h-4.0zM672.3 296.7h4.0v1.6h-4.0zM672.3 297.9h5.1v1.6h-5.1zM673.5 299.0h4.0v1.6h-4.0zM674.6 300.2h4.0v1.6h-4.0zM675.8 301.4h4.0v1.6h-4.0zM675.8 302.6h5.1v1.6h-5.1zM677.0 303.7h4.0v1.6h-4.0zM678.1 304.9h4.0v1.6h-4.0zM679.3 306.1h4.0v1.6h-4.0zM679.3 307.2h5.1v1.6h-5.1zM680.5 308.4h4.0v1.6h-4.0zM681.6 309.6h4.0v1.6h-4.0zM682.8 310.7h2.8v1.6h-2.8zM682.8 311.9h4.0v1.6h-4.0zM684.0 313.1h2.8v1.6h-2.8zM685.1 314.2h2.8v1.6h-2.8zM686.3 315.4h1.6v1.6h-1.6zM687.5 317.8h1.6v1.6h-1.6z"/>
<path fill="#0000cc" d="M644.2 212.5h1.6v1.6h-1.6zM646.5 212.5h4.0v1.6h-4.0zM643.0 213.6h8.6v1.6h-8.6zM633.7 214.8h1.6v1.6h-1.6zM641.9 214.8h1.6v1.6h-1.6zM645.4 214.8h5.1v1.6h-5.1zM629.0 216.0h1.6v1.6h-1.6zM634.8 216.0h1.6v1.6h-1.6zM644.2 216.0h6.3v1.6h-6.3zM624.3 217.1h1.6v1.6h-1.6zM630.2 217.1h2.8v1.6h-2.8zM633.7 217.1h5.1v1.6h-5.1zM644.2 217.1h5.1v1.6h-5.1zM650.1 217.1h1.6v1.6h-1.6zM630.2 218.3h5.1v1.6h-5.1zM637.2 218.3h1.6v1.6h-1.6zM640.7 218.3h1.6v1.6h-1.6zM645.4 218.3h5.1v1.6h-5.1zM630.2 219.5h2.8v1.6h-2.8zM633.7 219.5h2.8v1.6h-2.8zM639.5 219.5h5.1v1.6h-5.1zM646.5 219.5h5.1v1.6h-5.1zM652.4 219.5h1.6v1.6h-1.6zM627.8 220.7h1.6v1.6h-1.6zM633.7 220.7h7.5v1.6h-7.5zM643.0 220.7h6.3v1.6h-6.3zM651.2 220.7h1.6v1.6h-1.6zM627.8 221.8h2.8v1.6h-2.8zM632.5 221.8h20.3v1.6h-20.3zM629.0 223.0h1.6v1.6h-1.6zM631.3 223.0h6.3v1.6h-6.3zM639.5 223.0h12.1v1.6h-12.1zM652.4 223.0h1.6v1.6h-1.6zM654.7 223.0h1.6v1.6h-1.6zM630.2 224.2h1.6v1.6h-1.6zM632.5 224.2h6.3v1.6h-6.3zM640.7 224.2h4.0v1.6h-4.0zM645.4 224.2h1.6v1.6h-1.6zM647.7 224.2h5.1v1.6h-5.1zM653.6 224.2h4.0v1.6h-4.0zM630.2 225.3h1.6v1.6h-1.6zM632.5 225.3h7.5v1.6h-7.5zM641.9 225.3h5.1v1.6h-5.1zM648.9 225.3h6.3v1.6h-6.3zM655.9 225.3h1.6v1.6h-1.6zM631.3 226.5h1.6v1.6h-1.6zM633.7 226.5h4.0v1.6h-4.0zM640.7 226.5h4.0v1.6h-4.0zM645.4 226.5h1.6v1.6h-1.6zM647.7 226.5h4.0v1.6h-4.0zM652.4 226.5h4.0v1.6h-4.0zM633.7 227.7h6.3v1.6h-6.3zM640.7 227.7h6.3v1.6h-6.3zM647.7 227.7h9.8v1.6h-9.8zM633.7 228.8h1.6v1.6h-1.6zM636.0 228.8h1.6v1.6h-1.6zM638.4 228.8h1.6v1.6h-1.6zM640.7 228.8h6.3v1.6h-6.3zM647.7 228.8h4.0v1.6h-4.0zM652.4 228.8h5.1v1.6h-5.1zM634.8 230.0h2.8v1.6h-2.8zM638.4 230.0h1.6v1.6h-1.6zM640.7 230.0h9.8v1.6h-9.8zM653.6 230.0h2.8v1.6h-2.8zM637.2 231.2h11.0v1.6h-11.0zM637.2 232.4h1.6v1.6h-1.6zM641.9 232.4h7.5v1.6h-7.5zM643.0 233.5h5.1v1.6h-5.1zM641.9 234.7h7.5v1.6h-7.5zM653.6 234.7h1.6v1.6h-1.6zM643.0 235.9h2.8v1.6h-2.8zM646.5 235.9h2.8v1.6h-2.8zM650.1 235.9h1.6v1.6h-1.6zM652.4 235.9h2.8v1.6h-2.8zM655.9 235.9h1.6v1.6h-1.6zM641.9 237.0h4.0v1.6h-4.0zM646.5 237.0h5.1v1.6h-5.1zM643.0 238.2h14.5v1.6h-14.5zM644.2 239.4h7.5v1.6h-7.5zM652.4 239.4h1.6v1.6h-1.6zM655.9 239.4h1.6v1.6h-1.6zM645.4 240.5h5.1v1.6h-5.1zM651.2 240.5h4.0v1.6h-4.0zM655.9 240.5h2.8v1.6h-2.8zM646.5 241.7h5.1v1.6h-5.1zM654.7 241.7h1.6v1.6h-1.6zM648.9 242.9h5.1v1.6h-5.1zM654.7 242.9h2.8v1.6h-2.8zM658.2 242.9h1.6v1.6h-1.6zM648.9 244.1h9.8v1.6h-9.8zM651.2 245.2h5.1v1.6h-5.1zM657.1 245.2h2.8v1.6h-2.8zM652.4 246.4h7.5v1.6h-7.5zM661.8 246.4h1.6v1.6h-1.6zM653.6 247.6h1.6v1.6h-1.6zM655.9 247.6h5.1v1.6h-5.1zM661.8 247.6h2.8v1.6h-2.8zM655.9 248.7h2.8v1.6h-2.8zM660.6 248.7h4.0v1.6h-4.0zM655.9 249.9h2.8v1.6h-2.8zM660.6 249.9h4.0v1.6h-4.0zM657.1 251.1h7.5v1.6h-7.5zM658.2 252.2h1.6v1.6h-1.6zM662.9 252.2h1.6v1.6h-1.6zM660.6 253.4h4.0v1.6h-4.0zM660.6 254.6h1.6v1.6h-1.6zM664.1 254.6h1.6v1.6h-1.6zM664.1 255.8h1.6v1.6h-1.6z"/>
<path fill="#0000ee" d="M630.2 216.0h1.6v1.6h-1.6zM627.8 218.3h2.8v1.6h-2.8zM629.0 219.5h1.6v1.6h-1.6zM631.3 220.7h1.6v1.6h-1.6zM630.2 221.8h1.6v1.6h-1.6zM631.3 224.2h1.6v1.6h-1.6zM638.4 224.2h2.8v1.6h-2.8zM644.2 224.2h1.6v1.6h-1.6zM646.5 224.2h1.6v1.6h-1.6zM631.3 225.3h1.6v1.6h-1.6zM639.5 225.3h2.8v1.6h-2.8zM646.5 225.3h2.8v1.6h-2.8zM630.2 226.5h1.6v1.6h-1.6zM632.5 226.5h1.6v1.6h-1.6zM637.2 226.5h4.0v1.6h-4.0zM644.2 226.5h1.6v1.6h-1.6zM646.5 226.5h1.6v1.6h-1.6zM631.3 227.7h2.8v1.6h-2.8zM639.5 227.7h1.6v1.6h-1.6zM646.5 227.7h1.6v1.6h-1.6zM634.8 228.8h1.6v1.6h-1.6zM637.2 228.8h1.6v1.6h-1.6zM639.5 228.8h1.6v1.6h-1.6zM646.5 228.8h1.6v1.6h-1.6zM637.2 230.0h1.6v1.6h-1.6zM639.5 230.0h1.6v1.6h-1.6zM636.0 231.2h1.6v1.6h-1.6zM638.4 232.4h4.0v1.6h-4.0zM638.4 233.5h5.1v1.6h-5.1zM639.5 234.7h2.8v1.6h-2.8zM640.7 235.9h2.8v1.6h-2.8zM647.7 242.9h1.6v1.6h-1.6zM661.8 254.6h2.8v1.6h-2.8zM661.8 255.8h2.8v1.6h-2.8zM662.9 256.9h2.8v1.6h-2.8z"/>
<path fill="#ee0000" d="M710.9 218.3h1.6v1.6h-1.6zM710.9 219.5h1.6v1.6h-1.6zM691.0 220.7h1.6v1.6h-1.6zM688.7 221.8h1.6v1.6h-1.6zM691.0 221.8h1.6v1.6h-1.6zM688.7 223.0h1.6v1.6h-1.6zM691.0 223.0h1.6v1.6h-1.6zM694.5 223.0h1.6v1.6h-1.6zM691.0 224.2h5.1v1.6h-5.1zM698.0 224.2h1.6v1.6h-1.6zM701.5 224.2h1.6v1.6h-1.6zM703.9 224.2h2.8v1.6h-2.8zM686.3 225.3h11.0v1.6h-11.0zM705.0 225.3h1.6v1.6h-1.6zM686.3 226.5h2.8v1.6h-2.8zM689.8 226.5h5.1v1.6h-5.1zM696.9 226.5h1.6v1.6h-1.6zM701.5 226.5h4.0v1.6h-4.0zM685.1 227.7h12.1v1.6h-12.1zM701.5 227.7h1.6v1.6h-1.6zM703.9 227.7h1.6v1.6h-1.6zM687.5 228.8h4.0v1.6h-4.0zM692.2 228.8h1.6v1.6h-1.6zM694.5 228.8h1.6v1.6h-1.6zM700.4 228.8h1.6v1.6h-1.6zM703.9 228.8h1.6v1.6h-1.6zM684.0 230.0h1.6v1.6h-1.6zM686.3 230.0h1.6v1.6h-1.6zM688.7 230.0h5.1v1.6h-5.1zM682.8 231.2h6.3v1.6h-6.3zM691.0 231.2h1.6v1.6h-1.6zM681.6 232.4h4.0v1.6h-4.0zM686.3 232.4h5.1v1.6h-5.1zM681.6 233.5h2.8v1.6h-2.8zM685.1 233.5h1.6v1.6h-1.6zM687.5 233.5h4.0v1.6h-4.0zM680.5 234.7h4.0v1.6h-4.0zM685.1 234.7h1.6v1.6h-1.6zM687.5 234.7h1.6v1.6h-1.6zM689.8 234.7h1.6v1.6h-1.6zM680.5 235.9h7.5v1.6h-7.5zM679.3 237.0h4.0v1.6h-4.0zM684.0 237.0h1.6v1.6h-1.6zM686.3 237.0h4.0v1.6h-4.0zM678.1 238.2h9.8v1.6h-9.8zM688.7 238.2h1.6v1.6h-1.6zM678.1 239.4h7.5v1.6h-7.5zM686.3 239.4h2.8v1.6h-2.8zM677.0 240.5h12.1v1.6h-12.1zM677.0 241.7h12.1v1.6h-12.1zM675.8 242.9h6.3v1.6h-6.3zM684.0 242.9h6.3v1.6h-6.3zM675.8 244.1h7.5v1.6h-7.5zM684.0 244.1h5.1v1.6h-5.1zM674.6 245.2h6.3v1.6h-6.3zM685.1 245.2h1.6v1.6h-1.6zM674.6 246.4h6.3v1.6h-6.3zM673.5 247.6h6.3v1.6h-6.3zM673.5 248.7h2.8v1.6h-2.8zM677.0 248.7h1.6v1.6h-1.6zM672.3 249.9h4.0v1.6h-4.0zM672.3 251.1h2.8v1.6h-2.8zM671.1 252.2h5.1v1.6h-5.1zM671.1 253.4h2.8v1.6h-2.8zM669.9 254.6h4.0v1.6h-4.0zM669.9 255.8h1.6v1.6h-1.6zM664.1 267.5h1.6v1.6h-1.6zM664.1 268.6h1.6v1.6h-1.6zM664.1 269.8h1.6v1.6h-1.6z"/>
<path fill="#ff1100" d="M708.6 219.5h1.6v1.6h-1.6zM708.6 220.7h4.0v1.6h-4.0zM706.2 221.8h1.6v1.6h-1.6zM708.6 221.8h2.8v1.6h-2.8zM706.2 223.0h2.8v1.6h-2.8zM706.2 224.2h2.8v1.6h-2.8zM706.2 225.3h1.6v1.6h-1.6zM705.0 226.5h1.6v1.6h-1.6zM700.4 227.7h1.6v1.6h-1.6zM693.3 228.8h1.6v1.6h-1.6zM695.7 228.8h1.6v1.6h-1.6zM699.2 228.8h1.6v1.6h-1.6zM701.5 228.8h2.8v1.6h-2.8zM705.0 228.8h1.6v1.6h-1.6zM694.5 230.0h4.0v1.6h-4.0zM699.2 230.0h1.6v1.6h-1.6zM701.5 230.0h2.8v1.6h-2.8zM705.0 230.0h2.8v1.6h-2.8zM693.3 231.2h2.8v1.6h-2.8zM696.9 231.2h2.8v1.6h-2.8zM692.2 232.4h2.8v1.6h-2.8zM695.7 232.4h2.8v1.6h-2.8zM714.4 232.4h1.6v1.6h-1.6zM692.2 233.5h1.6v1.6h-1.6zM695.7 233.5h4.0v1.6h-4.0zM688.7 234.7h1.6v1.6h-1.6zM691.0 234.7h2.8v1.6h-2.8zM694.5 234.7h5.1v1.6h-5.1zM687.5 235.9h6.3v1.6h-6.3zM691.0 237.0h1.6v1.6h-1.6zM694.5 237.0h1.6v1.6h-1.6zM696.9 237.0h1.6v1.6h-1.6zM689.8 238.2h1.6v1.6h-1.6zM693.3 238.2h2.8v1.6h-2.8zM688.7 239.4h2.8v1.6h-2.8zM694.5 239.4h5.1v1.6h-5.1zM689.8 240.5h1.6v1.6h-1.6zM693.3 240.5h1.6v1.6h-1.6zM695.7 240.5h1.6v1.6h-1.6zM689.8 241.7h4.0v1.6h-4.0zM694.5 241.7h2.8v1.6h-2.8zM681.6 242.9h2.8v1.6h-2.8zM689.8 242.9h1.6v1.6h-1.6zM693.3 242.9h4.0v1.6h-4.0zM682.8 244.1h1.6v1.6h-1.6zM688.7 244.1h4.0v1.6h-4.0zM693.3 244.1h4.0v1.6h-4.0zM680.5 245.2h5.1v1.6h-5.1zM686.3 245.2h4.0v1.6h-4.0zM694.5 245.2h2.8v1.6h-2.8zM680.5 246.4h9.8v1.6h-9.8zM679.3 247.6h8.6v1.6h-8.6zM675.8 248.7h1.6v1.6h-1.6zM678.1 248.7h7.5v1.6h-7.5zM675.8 249.9h6.3v1.6h-6.3zM674.6 251.1h6.3v1.6h-6.3zM675.8 252.2h1.6v1.6h-1.6zM673.5 253.4h2.8v1.6h-2.8zM677.0 253.4h1.6v1.6h-1.6zM673.5 254.6h4.0v1.6h-4.0zM671.1 255.8h4.0v1.6h-4.0zM669.9 256.9h2.8v1.6h-2.8zM665.3 266.3h2.8v1.6h-2.8zM665.3 267.5h1.6v1.6h-1.6zM665.3 268.6h1.6v1.6h-1.6zM665.3 269.8h1.6v1.6h-1.6zM662.9 271.0h4.0v1.6h-4.0zM662.9 272.1h5.1v1.6h-5.1zM661.8 273.3h2.8v1.6h-2.8zM661.8 274.5h2.8v1.6h-2.8zM660.6 275.6h2.8v1.6h-2.8zM660.6 276.8h2.8v1.6h-2.8zM661.8 278.0h2.8v1.6h-2.8zM662.9 280.3h1.6v1.6h-1.6z"/>
<path fill="#ff3300" d="M708.6 228.8h1.6v1.6h-1.6zM707.4 230.0h2.8v1.6h-2.8zM716.7 230.0h1.6v1.6h-1.6zM705.0 231.2h5.1v1.6h-5.1zM713.2 231.2h1.6v1.6h-1.6zM719.1 231.2h1.6v1.6h-1.6zM694.5 232.4h1.6v1.6h-1.6zM700.4 232.4h2.8v1.6h-2.8zM705.0 232.4h1.6v1.6h-1.6zM709.7 232.4h1.6v1.6h-1.6zM713.2 232.4h1.6v1.6h-1.6zM716.7 232.4h2.8v1.6h-2.8zM720.2 232.4h1.6v1.6h-1.6zM694.5 233.5h1.6v1.6h-1.6zM699.2 233.5h2.8v1.6h-2.8zM702.7 233.5h1.6v1.6h-1.6zM712.1 233.5h1.6v1.6h-1.6zM715.6 233.5h5.1v1.6h-5.1zM693.3 234.7h1.6v1.6h-1.6zM700.4 234.7h4.0v1.6h-4.0zM706.2 234.7h1.6v1.6h-1.6zM708.6 234.7h1.6v1.6h-1.6zM712.1 234.7h7.5v1.6h-7.5zM694.5 235.9h2.8v1.6h-2.8zM698.0 235.9h5.1v1.6h-5.1zM706.2 235.9h5.1v1.6h-5.1zM712.1 235.9h1.6v1.6h-1.6zM695.7 237.0h1.6v1.6h-1.6zM698.0 237.0h5.1v1.6h-5.1zM705.0 237.0h4.0v1.6h-4.0zM692.2 238.2h1.6v1.6h-1.6zM695.7 238.2h4.0v1.6h-4.0zM700.4 238.2h2.8v1.6h-2.8zM706.2 238.2h6.3v1.6h-6.3zM691.0 239.4h4.0v1.6h-4.0zM699.2 239.4h2.8v1.6h-2.8zM705.0 239.4h8.6v1.6h-8.6zM691.0 240.5h2.8v1.6h-2.8zM694.5 240.5h1.6v1.6h-1.6zM696.9 240.5h5.1v1.6h-5.1zM703.9 240.5h1.6v1.6h-1.6zM706.2 240.5h1.6v1.6h-1.6zM708.6 240.5h5.1v1.6h-5.1zM693.3 241.7h1.6v1.6h-1.6zM696.9 241.7h7.5v1.6h-7.5zM705.0 241.7h6.3v1.6h-6.3zM719.1 241.7h1.6v1.6h-1.6zM691.0 242.9h2.8v1.6h-2.8zM696.9 242.9h4.0v1.6h-4.0zM707.4 242.9h1.6v1.6h-1.6zM716.7 242.9h4.0v1.6h-4.0zM692.2 244.1h1.6v1.6h-1.6zM696.9 244.1h5.1v1.6h-5.1zM706.2 244.1h1.6v1.6h-1.6zM712.1 244.1h1.6v1.6h-1.6zM716.7 244.1h4.0v1.6h-4.0zM689.8 245.2h5.1v1.6h-5.1zM696.9 245.2h2.8v1.6h-2.8zM708.6 245.2h1.6v1.6h-1.6zM730.8 245.2h1.6v1.6h-1.6zM689.8 246.4h9.8v1.6h-9.8zM687.5 247.6h4.0v1.6h-4.0zM692.2 247.6h2.8v1.6h-2.8zM695.7 247.6h2.8v1.6h-2.8zM719.1 247.6h1.6v1.6h-1.6zM722.6 247.6h1.6v1.6h-1.6zM685.1 248.7h5.1v1.6h-5.1zM681.6 249.9h7.5v1.6h-7.5zM680.5 251.1h7.5v1.6h-7.5zM677.0 252.2h9.8v1.6h-9.8zM689.8 252.2h1.6v1.6h-1.6zM710.9 252.2h1.6v1.6h-1.6zM675.8 253.4h1.6v1.6h-1.6zM678.1 253.4h1.6v1.6h-1.6zM681.6 253.4h4.0v1.6h-4.0zM677.0 254.6h1.6v1.6h-1.6zM679.3 254.6h2.8v1.6h-2.8zM684.0 254.6h1.6v1.6h-1.6zM674.6 255.8h6.3v1.6h-6.3zM672.3 256.9h4.0v1.6h-4.0zM678.1 256.9h2.8v1.6h-2.8zM671.1 258.1h1.6v1.6h-1.6zM673.5 258.1h1.6v1.6h-1.6zM678.1 258.1h1.6v1.6h-1.6zM666.4 267.5h2.8v1.6h-2.8zM666.4 268.6h1.6v1.6h-1.6zM666.4 269.8h1.6v1.6h-1.6zM666.4 271.0h1.6v1.6h-1.6zM667.6 272.1h1.6v1.6h-1.6zM664.1 273.3h6.3v1.6h-6.3zM664.1 274.5h5.1v1.6h-5.1zM662.9 275.6h5.1v1.6h-5.1zM662.9 276.8h5.1v1.6h-5.1zM664.1 278.0h1.6v1.6h-1.6zM662.9 279.2h4.0v1.6h-4.0zM664.1 280.3h2.8v1.6h-2.8zM667.6 280.3h1.6v1.6h-1.6zM664.1 281.5h2.8v1.6h-2.8zM667.6 281.5h1.6v1.6h-1.6zM665.3 282.7h2.8v1.6h-2.8zM666.4 283.8h2.8v1.6h-2.8zM666.4 285.0h5.1v1.6h-5.1zM675.8 285.0h1.6v1.6h-1.6zM667.6 286.2h5.1v1.6h-5.1zM673.5 286.2h2.8v1.6h-2.8zM668.8 287.3h5.1v1.6h-5.1zM674.6 287.3h5.1v1.6h-5.1zM669.9 288.5h8.6v1.6h-8.6zM669.9 289.7h9.8v1.6h-9.8zM671.1 290.9h4.0v1.6h-4.0zM675.8 290.9h1.6v1.6h-1.6zM673.5 292.0h2.8v1.6h-2.8zM673.5 293.2h1.6v1.6h-1.6zM674.6 294.4h1.6v1.6h-1.6zM674.6 295.5h2.8v1.6h-2.8zM678.1 295.5h2.8v1.6h-2.8zM675.8 296.7h4.0v1.6h-4.0zM677.0 297.9h4.0v1.6h-4.0zM677.0 299.0h1.6v1.6h-1.6zM679.3 299.0h1.6v1.6h-1.6zM686.3 299.0h1.6v1.6h-1.6zM696.9 304.9h2.8v1.6h-2.8zM692.2 306.1h1.6v1.6h-1.6zM696.9 306.1h1.6v1.6h-1.6zM684.0 308.4h1.6v1.6h-1.6zM686.3 311.9h1.6v1.6h-1.6zM691.0 320.1h1.6v1.6h-1.6zM691.0 321.3h1.6v1.6h-1.6z"/>
<path fill="#ff4400" d="M703.9 232.4h1.6v1.6h-1.6zM706.2 232.4h2.8v1.6h-2.8zM712.1 232.4h1.6v1.6h-1.6zM701.5 233.5h1.6v1.6h-1.6zM705.0 233.5h2.8v1.6h-2.8zM709.7 233.5h2.8v1.6h-2.8zM720.2 233.5h1.6v1.6h-1.6zM703.9 234.7h2.8v1.6h-2.8zM709.7 234.7h2.8v1.6h-2.8zM703.9 235.9h2.8v1.6h-2.8zM713.2 235.9h4.0v1.6h-4.0zM702.7 237.0h2.8v1.6h-2.8zM709.7 237.0h2.8v1.6h-2.8zM713.2 237.0h1.6v1.6h-1.6zM702.7 238.2h4.0v1.6h-4.0zM713.2 238.2h1.6v1.6h-1.6zM701.5 239.4h4.0v1.6h-4.0zM701.5 240.5h2.8v1.6h-2.8zM705.0 240.5h1.6v1.6h-1.6zM703.9 241.7h1.6v1.6h-1.6zM700.4 242.9h7.5v1.6h-7.5zM714.4 242.9h2.8v1.6h-2.8zM701.5 244.1h5.1v1.6h-5.1zM713.2 244.1h4.0v1.6h-4.0zM699.2 245.2h9.8v1.6h-9.8zM709.7 245.2h1.6v1.6h-1.6zM712.1 245.2h5.1v1.6h-5.1zM699.2 246.4h18.0v1.6h-18.0zM691.0 247.6h1.6v1.6h-1.6zM694.5 247.6h1.6v1.6h-1.6zM698.0 247.6h9.8v1.6h-9.8zM709.7 247.6h4.0v1.6h-4.0zM714.4 247.6h2.8v1.6h-2.8zM689.8 248.7h16.8v1.6h-16.8zM708.6 248.7h2.8v1.6h-2.8zM712.1 248.7h1.6v1.6h-1.6zM714.4 248.7h5.1v1.6h-5.1zM724.9 248.7h4.0v1.6h-4.0zM688.7 249.9h18.0v1.6h-18.0zM708.6 249.9h2.8v1.6h-2.8zM712.1 249.9h7.5v1.6h-7.5zM721.4 249.9h5.1v1.6h-5.1zM727.3 249.9h1.6v1.6h-1.6zM730.8 249.9h1.6v1.6h-1.6zM687.5 251.1h12.1v1.6h-12.1zM700.4 251.1h1.6v1.6h-1.6zM702.7 251.1h4.0v1.6h-4.0zM708.6 251.1h12.1v1.6h-12.1zM721.4 251.1h1.6v1.6h-1.6zM723.8 251.1h2.8v1.6h-2.8zM686.3 252.2h4.0v1.6h-4.0zM691.0 252.2h7.5v1.6h-7.5zM699.2 252.2h1.6v1.6h-1.6zM701.5 252.2h1.6v1.6h-1.6zM708.6 252.2h2.8v1.6h-2.8zM712.1 252.2h7.5v1.6h-7.5zM720.2 252.2h2.8v1.6h-2.8zM679.3 253.4h2.8v1.6h-2.8zM685.1 253.4h12.1v1.6h-12.1zM706.2 253.4h1.6v1.6h-1.6zM708.6 253.4h12.1v1.6h-12.1zM721.4 253.4h1.6v1.6h-1.6zM678.1 254.6h1.6v1.6h-1.6zM681.6 254.6h2.8v1.6h-2.8zM685.1 254.6h6.3v1.6h-6.3zM693.3 254.6h1.6v1.6h-1.6zM695.7 254.6h1.6v1.6h-1.6zM705.0 254.6h2.8v1.6h-2.8zM708.6 254.6h13.3v1.6h-13.3zM680.5 255.8h5.1v1.6h-5.1zM686.3 255.8h1.6v1.6h-1.6zM689.8 255.8h2.8v1.6h-2.8zM707.4 255.8h2.8v1.6h-2.8zM710.9 255.8h1.6v1.6h-1.6zM714.4 255.8h1.6v1.6h-1.6zM675.8 256.9h2.8v1.6h-2.8zM680.5 256.9h2.8v1.6h-2.8zM689.8 256.9h1.6v1.6h-1.6zM706.2 256.9h2.8v1.6h-2.8zM717.9 256.9h1.6v1.6h-1.6zM672.3 258.1h1.6v1.6h-1.6zM674.6 258.1h4.0v1.6h-4.0zM679.3 258.1h2.8v1.6h-2.8zM684.0 258.1h1.6v1.6h-1.6zM723.8 258.1h2.8v1.6h-2.8zM672.3 259.3h7.5v1.6h-7.5zM722.6 259.3h1.6v1.6h-1.6zM672.3 260.4h5.1v1.6h-5.1zM678.1 260.4h1.6v1.6h-1.6zM723.8 260.4h1.6v1.6h-1.6zM726.1 260.4h1.6v1.6h-1.6zM674.6 261.6h2.8v1.6h-2.8zM726.1 261.6h1.6v1.6h-1.6zM667.6 266.3h2.8v1.6h-2.8zM667.6 268.6h1.6v1.6h-1.6zM699.2 268.6h1.6v1.6h-1.6zM667.6 269.8h2.8v1.6h-2.8zM667.6 271.0h4.0v1.6h-4.0zM668.8 272.1h4.0v1.6h-4.0zM709.7 272.1h1.6v1.6h-1.6zM669.9 273.3h2.8v1.6h-2.8zM702.7 273.3h1.6v1.6h-1.6zM668.8 274.5h4.0v1.6h-4.0zM667.6 275.6h4.0v1.6h-4.0zM667.6 276.8h4.0v1.6h-4.0zM665.3 278.0h6.3v1.6h-6.3zM715.6 278.0h5.1v1.6h-5.1zM666.4 279.2h6.3v1.6h-6.3zM719.1 279.2h5.1v1.6h-5.1zM666.4 280.3h1.6v1.6h-1.6zM668.8 280.3h4.0v1.6h-4.0zM717.9 280.3h4.0v1.6h-4.0zM724.9 280.3h1.6v1.6h-1.6zM666.4 281.5h1.6v1.6h-1.6zM668.8 281.5h6.3v1.6h-6.3zM710.9 281.5h1.6v1.6h-1.6zM722.6 281.5h1.6v1.6h-1.6zM667.6 282.7h11.0v1.6h-11.0zM668.8 283.8h12.1v1.6h-12.1zM708.6 283.8h1.6v1.6h-1.6zM713.2 283.8h1.6v1.6h-1.6zM717.9 283.8h1.6v1.6h-1.6zM671.1 285.0h5.1v1.6h-5.1zM677.0 285.0h4.0v1.6h-4.0zM708.6 285.0h1.6v1.6h-1.6zM716.7 285.0h1.6v1.6h-1.6zM672.3 286.2h1.6v1.6h-1.6zM675.8 286.2h6.3v1.6h-6.3zM702.7 286.2h1.6v1.6h-1.6zM706.2 286.2h1.6v1.6h-1.6zM708.6 286.2h1.6v1.6h-1.6zM673.5 287.3h1.6v1.6h-1.6zM679.3 287.3h2.8v1.6h-2.8zM702.7 287.3h1.6v1.6h-1.6zM678.1 288.5h4.0v1.6h-4.0zM684.0 288.5h1.6v1.6h-1.6zM714.4 288.5h1.6v1.6h-1.6zM679.3 289.7h4.0v1.6h-4.0zM674.6 290.9h1.6v1.6h-1.6zM677.0 290.9h7.5v1.6h-7.5zM685.1 290.9h1.6v1.6h-1.6zM702.7 290.9h1.6v1.6h-1.6zM672.3 292.0h1.6v1.6h-1.6zM675.8 292.0h8.6v1.6h-8.6zM674.6 293.2h9.8v1.6h-9.8zM685.1 293.2h1.6v1.6h-1.6zM673.5 294.4h1.6v1.6h-1.6zM675.8 294.4h9.8v1.6h-9.8zM677.0 295.5h1.6v1.6h-1.6zM680.5 295.5h8.6v1.6h-8.6zM679.3 296.7h5.1v1.6h-5.1zM685.1 296.7h5.1v1.6h-5.1zM680.5 297.9h9.8v1.6h-9.8zM695.7 297.9h1.6v1.6h-1.6zM678.1 299.0h1.6v1.6h-1.6zM680.5 299.0h4.0v1.6h-4.0zM685.1 299.0h1.6v1.6h-1.6zM687.5 299.0h1.6v1.6h-1.6zM692.2 299.0h1.6v1.6h-1.6zM678.1 300.2h7.5v1.6h-7.5zM686.3 300.2h6.3v1.6h-6.3zM694.5 300.2h1.6v1.6h-1.6zM696.9 300.2h1.6v1.6h-1.6zM712.1 300.2h1.6v1.6h-1.6zM679.3 301.4h6.3v1.6h-6.3zM686.3 301.4h5.1v1.6h-5.1zM695.7 301.4h1.6v1.6h-1.6zM709.7 301.4h1.6v1.6h-1.6zM680.5 302.6h5.1v1.6h-5.1zM686.3 302.6h5.1v1.6h-5.1zM694.5 302.6h4.0v1.6h-4.0zM705.0 302.6h1.6v1.6h-1.6zM710.9 302.6h1.6v1.6h-1.6zM680.5 303.7h13.3v1.6h-13.3zM695.7 303.7h4.0v1.6h-4.0zM702.7 303.7h1.6v1.6h-1.6zM710.9 303.7h1.6v1.6h-1.6zM681.6 304.9h2.8v1.6h-2.8zM685.1 304.9h8.6v1.6h-8.6zM699.2 304.9h1.6v1.6h-1.6zM682.8 306.1h9.8v1.6h-9.8zM698.0 306.1h2.8v1.6h-2.8zM684.0 307.2h6.3v1.6h-6.3zM691.0 307.2h2.8v1.6h-2.8zM698.0 307.2h4.0v1.6h-4.0zM685.1 308.4h1.6v1.6h-1.6zM687.5 308.4h4.0v1.6h-4.0zM692.2 308.4h2.8v1.6h-2.8zM698.0 308.4h1.6v1.6h-1.6zM700.4 308.4h2.8v1.6h-2.8zM685.1 309.6h2.8v1.6h-2.8zM688.7 309.6h2.8v1.6h-2.8zM692.2 309.6h2.8v1.6h-2.8zM699.2 309.6h1.6v1.6h-1.6zM701.5 309.6h1.6v1.6h-1.6zM685.1 310.7h1.6v1.6h-1.6zM687.5 310.7h4.0v1.6h-4.0zM693.3 310.7h4.0v1.6h-4.0zM700.4 310.7h2.8v1.6h-2.8zM688.7 311.9h4.0v1.6h-4.0zM693.3 311.9h4.0v1.6h-4.0zM700.4 311.9h1.6v1.6h-1.6zM703.9 311.9h1.6v1.6h-1.6zM687.5 313.1h4.0v1.6h-4.0zM701.5 313.1h1.6v1.6h-1.6zM708.6 313.1h1.6v1.6h-1.6zM687.5 314.2h5.1v1.6h-5.1zM695.7 314.2h2.8v1.6h-2.8zM687.5 315.4h4.0v1.6h-4.0zM687.5 316.6h2.8v1.6h-2.8zM691.0 316.6h1.6v1.6h-1.6zM688.7 317.8h4.0v1.6h-4.0zM698.0 317.8h2.8v1.6h-2.8zM703.9 317.8h1.6v1.6h-1.6zM688.7 318.9h1.6v1.6h-1.6zM691.0 318.9h2.8v1.6h-2.8zM699.2 318.9h1.6v1.6h-1.6zM705.0 318.9h1.6v1.6h-1.6zM689.8 320.1h1.6v1.6h-1.6zM692.2 320.1h1.6v1.6h-1.6zM698.0 320.1h1.6v1.6h-1.6zM700.4 320.1h1.6v1.6h-1.6zM693.3 322.4h1.6v1.6h-1.6zM700.4 323.6h1.6v1.6h-1.6zM696.9 326.0h1.6v1.6h-1.6z"/>
<path fill="#ff6000" d="M707.4 247.6h1.6v1.6h-1.6zM706.2 248.7h1.6v1.6h-1.6zM710.9 248.7h1.6v1.6h-1.6zM706.2 249.9h2.8v1.6h-2.8zM710.9 249.9h1.6v1.6h-1.6zM699.2 251.1h1.6v1.6h-1.6zM701.5 251.1h1.6v1.6h-1.6zM706.2 251.1h2.8v1.6h-2.8zM722.6 251.1h1.6v1.6h-1.6zM726.1 251.1h2.8v1.6h-2.8zM698.0 252.2h1.6v1.6h-1.6zM700.4 252.2h1.6v1.6h-1.6zM702.7 252.2h6.3v1.6h-6.3zM696.9 253.4h9.8v1.6h-9.8zM707.4 253.4h1.6v1.6h-1.6zM691.0 254.6h2.8v1.6h-2.8zM694.5 254.6h1.6v1.6h-1.6zM696.9 254.6h8.6v1.6h-8.6zM707.4 254.6h1.6v1.6h-1.6zM685.1 255.8h1.6v1.6h-1.6zM687.5 255.8h2.8v1.6h-2.8zM692.2 255.8h15.7v1.6h-15.7zM709.7 255.8h1.6v1.6h-1.6zM712.1 255.8h2.8v1.6h-2.8zM715.6 255.8h2.8v1.6h-2.8zM682.8 256.9h7.5v1.6h-7.5zM691.0 256.9h5.1v1.6h-5.1zM696.9 256.9h9.8v1.6h-9.8zM708.6 256.9h9.8v1.6h-9.8zM681.6 258.1h2.8v1.6h-2.8zM685.1 258.1h8.6v1.6h-8.6zM694.5 258.1h1.6v1.6h-1.6zM696.9 258.1h19.2v1.6h-19.2zM716.7 258.1h2.8v1.6h-2.8zM721.4 258.1h1.6v1.6h-1.6zM726.1 258.1h1.6v1.6h-1.6zM679.3 259.3h14.5v1.6h-14.5zM695.7 259.3h1.6v1.6h-1.6zM698.0 259.3h5.1v1.6h-5.1zM703.9 259.3h19.2v1.6h-19.2zM723.8 259.3h2.8v1.6h-2.8zM727.3 259.3h1.6v1.6h-1.6zM677.0 260.4h1.6v1.6h-1.6zM679.3 260.4h12.1v1.6h-12.1zM692.2 260.4h1.6v1.6h-1.6zM694.5 260.4h7.5v1.6h-7.5zM705.0 260.4h1.6v1.6h-1.6zM707.4 260.4h16.8v1.6h-16.8zM724.9 260.4h1.6v1.6h-1.6zM728.4 260.4h1.6v1.6h-1.6zM672.3 261.6h2.8v1.6h-2.8zM677.0 261.6h7.5v1.6h-7.5zM685.1 261.6h5.1v1.6h-5.1zM692.2 261.6h1.6v1.6h-1.6zM698.0 261.6h6.3v1.6h-6.3zM709.7 261.6h8.6v1.6h-8.6zM722.6 261.6h2.8v1.6h-2.8zM672.3 262.8h1.6v1.6h-1.6zM674.6 262.8h4.0v1.6h-4.0zM679.3 262.8h2.8v1.6h-2.8zM685.1 262.8h1.6v1.6h-1.6zM687.5 262.8h4.0v1.6h-4.0zM694.5 262.8h1.6v1.6h-1.6zM696.9 262.8h6.3v1.6h-6.3zM708.6 262.8h6.3v1.6h-6.3zM715.6 262.8h5.1v1.6h-5.1zM722.6 262.8h2.8v1.6h-2.8zM672.3 263.9h2.8v1.6h-2.8zM675.8 263.9h8.6v1.6h-8.6zM689.8 263.9h1.6v1.6h-1.6zM693.3 263.9h1.6v1.6h-1.6zM695.7 263.9h2.8v1.6h-2.8zM700.4 263.9h1.6v1.6h-1.6zM703.9 263.9h2.8v1.6h-2.8zM709.7 263.9h1.6v1.6h-1.6zM713.2 263.9h1.6v1.6h-1.6zM715.6 263.9h1.6v1.6h-1.6zM669.9 265.1h4.0v1.6h-4.0zM679.3 265.1h1.6v1.6h-1.6zM693.3 265.1h5.1v1.6h-5.1zM699.2 265.1h1.6v1.6h-1.6zM701.5 265.1h1.6v1.6h-1.6zM705.0 265.1h2.8v1.6h-2.8zM710.9 265.1h4.0v1.6h-4.0zM715.6 265.1h1.6v1.6h-1.6zM717.9 265.1h1.6v1.6h-1.6zM669.9 266.3h2.8v1.6h-2.8zM689.8 266.3h1.6v1.6h-1.6zM693.3 266.3h9.8v1.6h-9.8zM703.9 266.3h2.8v1.6h-2.8zM707.4 266.3h7.5v1.6h-7.5zM715.6 266.3h1.6v1.6h-1.6zM668.8 267.5h4.0v1.6h-4.0zM692.2 267.5h4.0v1.6h-4.0zM696.9 267.5h14.5v1.6h-14.5zM712.1 267.5h11.0v1.6h-11.0zM668.8 268.6h2.8v1.6h-2.8zM673.5 268.6h1.6v1.6h-1.6zM686.3 268.6h1.6v1.6h-1.6zM693.3 268.6h1.6v1.6h-1.6zM695.7 268.6h4.0v1.6h-4.0zM700.4 268.6h12.1v1.6h-12.1zM715.6 268.6h4.0v1.6h-4.0zM720.2 268.6h2.8v1.6h-2.8zM669.9 269.8h4.0v1.6h-4.0zM685.1 269.8h1.6v1.6h-1.6zM688.7 269.8h1.6v1.6h-1.6zM692.2 269.8h2.8v1.6h-2.8zM695.7 269.8h16.8v1.6h-16.8zM722.6 269.8h1.6v1.6h-1.6zM671.1 271.0h1.6v1.6h-1.6zM686.3 271.0h2.8v1.6h-2.8zM698.0 271.0h13.3v1.6h-13.3zM712.1 271.0h2.8v1.6h-2.8zM672.3 272.1h2.8v1.6h-2.8zM691.0 272.1h2.8v1.6h-2.8zM695.7 272.1h12.1v1.6h-12.1zM708.6 272.1h1.6v1.6h-1.6zM710.9 272.1h5.1v1.6h-5.1zM716.7 272.1h2.8v1.6h-2.8zM672.3 273.3h2.8v1.6h-2.8zM675.8 273.3h1.6v1.6h-1.6zM692.2 273.3h1.6v1.6h-1.6zM695.7 273.3h7.5v1.6h-7.5zM703.9 273.3h13.3v1.6h-13.3zM717.9 273.3h1.6v1.6h-1.6zM672.3 274.5h5.1v1.6h-5.1zM689.8 274.5h1.6v1.6h-1.6zM692.2 274.5h2.8v1.6h-2.8zM695.7 274.5h1.6v1.6h-1.6zM698.0 274.5h21.5v1.6h-21.5zM671.1 275.6h8.6v1.6h-8.6zM688.7 275.6h1.6v1.6h-1.6zM692.2 275.6h9.8v1.6h-9.8zM702.7 275.6h14.5v1.6h-14.5zM717.9 275.6h1.6v1.6h-1.6zM671.1 276.8h11.0v1.6h-11.0zM682.8 276.8h1.6v1.6h-1.6zM688.7 276.8h1.6v1.6h-1.6zM692.2 276.8h6.3v1.6h-6.3zM699.2 276.8h1.6v1.6h-1.6zM706.2 276.8h11.0v1.6h-11.0zM720.2 276.8h1.6v1.6h-1.6zM671.1 278.0h12.1v1.6h-12.1zM685.1 278.0h1.6v1.6h-1.6zM691.0 278.0h2.8v1.6h-2.8zM694.5 278.0h4.0v1.6h-4.0zM699.2 278.0h2.8v1.6h-2.8zM705.0 278.0h11.0v1.6h-11.0zM672.3 279.2h9.8v1.6h-9.8zM688.7 279.2h1.6v1.6h-1.6zM692.2 279.2h1.6v1.6h-1.6zM694.5 279.2h5.1v1.6h-5.1zM700.4 279.2h1.6v1.6h-1.6zM705.0 279.2h1.6v1.6h-1.6zM708.6 279.2h9.8v1.6h-9.8zM672.3 280.3h4.0v1.6h-4.0zM677.0 280.3h5.1v1.6h-5.1zM686.3 280.3h5.1v1.6h-5.1zM696.9 280.3h2.8v1.6h-2.8zM700.4 280.3h1.6v1.6h-1.6zM702.7 280.3h2.8v1.6h-2.8zM708.6 280.3h9.8v1.6h-9.8zM721.4 280.3h4.0v1.6h-4.0zM726.1 280.3h1.6v1.6h-1.6zM674.6 281.5h8.6v1.6h-8.6zM686.3 281.5h1.6v1.6h-1.6zM688.7 281.5h1.6v1.6h-1.6zM692.2 281.5h1.6v1.6h-1.6zM695.7 281.5h1.6v1.6h-1.6zM698.0 281.5h1.6v1.6h-1.6zM700.4 281.5h1.6v1.6h-1.6zM703.9 281.5h2.8v1.6h-2.8zM708.6 281.5h2.8v1.6h-2.8zM712.1 281.5h4.0v1.6h-4.0zM721.4 281.5h1.6v1.6h-1.6zM724.9 281.5h1.6v1.6h-1.6zM727.3 281.5h1.6v1.6h-1.6zM678.1 282.7h4.0v1.6h-4.0zM685.1 282.7h4.0v1.6h-4.0zM689.8 282.7h1.6v1.6h-1.6zM692.2 282.7h4.0v1.6h-4.0zM696.9 282.7h1.6v1.6h-1.6zM701.5 282.7h5.1v1.6h-5.1zM707.4 282.7h9.8v1.6h-9.8zM717.9 282.7h1.6v1.6h-1.6zM723.8 282.7h1.6v1.6h-1.6zM726.1 282.7h4.0v1.6h-4.0zM680.5 283.8h2.8v1.6h-2.8zM685.1 283.8h6.3v1.6h-6.3zM693.3 283.8h15.7v1.6h-15.7zM709.7 283.8h4.0v1.6h-4.0zM714.4 283.8h2.8v1.6h-2.8zM727.3 283.8h2.8v1.6h-2.8zM680.5 285.0h9.8v1.6h-9.8zM691.0 285.0h1.6v1.6h-1.6zM693.3 285.0h15.7v1.6h-15.7zM712.1 285.0h1.6v1.6h-1.6zM715.6 285.0h1.6v1.6h-1.6zM717.9 285.0h1.6v1.6h-1.6zM681.6 286.2h9.8v1.6h-9.8zM692.2 286.2h11.0v1.6h-11.0zM703.9 286.2h2.8v1.6h-2.8zM707.4 286.2h1.6v1.6h-1.6zM709.7 286.2h1.6v1.6h-1.6zM713.2 286.2h1.6v1.6h-1.6zM716.7 286.2h4.0v1.6h-4.0zM681.6 287.3h9.8v1.6h-9.8zM692.2 287.3h11.0v1.6h-11.0zM703.9 287.3h5.1v1.6h-5.1zM709.7 287.3h4.0v1.6h-4.0zM681.6 288.5h2.8v1.6h-2.8zM685.1 288.5h13.3v1.6h-13.3zM700.4 288.5h1.6v1.6h-1.6zM702.7 288.5h6.3v1.6h-6.3zM709.7 288.5h1.6v1.6h-1.6zM712.1 288.5h2.8v1.6h-2.8zM724.9 288.5h2.8v1.6h-2.8zM682.8 289.7h15.7v1.6h-15.7zM699.2 289.7h7.5v1.6h-7.5zM707.4 289.7h9.8v1.6h-9.8zM684.0 290.9h1.6v1.6h-1.6zM686.3 290.9h12.1v1.6h-12.1zM699.2 290.9h4.0v1.6h-4.0zM703.9 290.9h1.6v1.6h-1.6zM710.9 290.9h1.6v1.6h-1.6zM713.2 290.9h5.1v1.6h-5.1zM684.0 292.0h7.5v1.6h-7.5zM692.2 292.0h6.3v1.6h-6.3zM699.2 292.0h7.5v1.6h-7.5zM709.7 292.0h1.6v1.6h-1.6zM715.6 292.0h1.6v1.6h-1.6zM684.0 293.2h1.6v1.6h-1.6zM686.3 293.2h4.0v1.6h-4.0zM691.0 293.2h4.0v1.6h-4.0zM695.7 293.2h1.6v1.6h-1.6zM701.5 293.2h5.1v1.6h-5.1zM716.7 293.2h1.6v1.6h-1.6zM685.1 294.4h8.6v1.6h-8.6zM694.5 294.4h4.0v1.6h-4.0zM699.2 294.4h1.6v1.6h-1.6zM702.7 294.4h4.0v1.6h-4.0zM707.4 294.4h1.6v1.6h-1.6zM688.7 295.5h6.3v1.6h-6.3zM695.7 295.5h2.8v1.6h-2.8zM699.2 295.5h4.0v1.6h-4.0zM703.9 295.5h2.8v1.6h-2.8zM707.4 295.5h2.8v1.6h-2.8zM684.0 296.7h1.6v1.6h-1.6zM689.8 296.7h14.5v1.6h-14.5zM707.4 296.7h1.6v1.6h-1.6zM689.8 297.9h6.3v1.6h-6.3zM699.2 297.9h8.6v1.6h-8.6zM709.7 297.9h1.6v1.6h-1.6zM684.0 299.0h1.6v1.6h-1.6zM688.7 299.0h4.0v1.6h-4.0zM693.3 299.0h2.8v1.6h-2.8zM696.9 299.0h2.8v1.6h-2.8zM701.5 299.0h6.3v1.6h-6.3zM708.6 299.0h1.6v1.6h-1.6zM710.9 299.0h1.6v1.6h-1.6zM685.1 300.2h1.6v1.6h-1.6zM692.2 300.2h2.8v1.6h-2.8zM699.2 300.2h2.8v1.6h-2.8zM702.7 300.2h1.6v1.6h-1.6zM705.0 300.2h2.8v1.6h-2.8zM708.6 300.2h4.0v1.6h-4.0zM685.1 301.4h1.6v1.6h-1.6zM693.3 301.4h2.8v1.6h-2.8zM701.5 301.4h1.6v1.6h-1.6zM703.9 301.4h1.6v1.6h-1.6zM706.2 301.4h4.0v1.6h-4.0zM713.2 301.4h1.6v1.6h-1.6zM685.1 302.6h1.6v1.6h-1.6zM719.1 303.7h1.6v1.6h-1.6zM684.0 304.9h1.6v1.6h-1.6zM686.3 308.4h1.6v1.6h-1.6zM691.0 309.6h1.6v1.6h-1.6zM700.4 309.6h1.6v1.6h-1.6zM691.0 310.7h1.6v1.6h-1.6zM702.7 310.7h1.6v1.6h-1.6zM702.7 311.9h1.6v1.6h-1.6zM693.3 313.1h1.6v1.6h-1.6zM695.7 313.1h2.8v1.6h-2.8zM694.5 314.2h1.6v1.6h-1.6zM691.0 315.4h1.6v1.6h-1.6zM695.7 315.4h4.0v1.6h-4.0zM695.7 316.6h2.8v1.6h-2.8zM692.2 317.8h1.6v1.6h-1.6zM696.9 317.8h1.6v1.6h-1.6z"/>
<path fill="#ff7700" d="M695.7 256.9h1.6v1.6h-1.6zM693.3 258.1h1.6v1.6h-1.6zM695.7 258.1h1.6v1.6h-1.6zM693.3 259.3h2.8v1.6h-2.8zM696.9 259.3h1.6v1.6h-1.6zM702.7 259.3h1.6v1.6h-1.6zM691.0 260.4h1.6v1.6h-1.6zM693.3 260.4h1.6v1.6h-1.6zM701.5 260.4h4.0v1.6h-4.0zM706.2 260.4h1.6v1.6h-1.6zM684.0 261.6h1.6v1.6h-1.6zM689.8 261.6h2.8v1.6h-2.8zM693.3 261.6h5.1v1.6h-5.1zM703.9 261.6h6.3v1.6h-6.3zM717.9 261.6h2.8v1.6h-2.8zM721.4 261.6h1.6v1.6h-1.6zM673.5 262.8h1.6v1.6h-1.6zM678.1 262.8h1.6v1.6h-1.6zM681.6 262.8h4.0v1.6h-4.0zM686.3 262.8h1.6v1.6h-1.6zM691.0 262.8h4.0v1.6h-4.0zM695.7 262.8h1.6v1.6h-1.6zM702.7 262.8h6.3v1.6h-6.3zM721.4 262.8h1.6v1.6h-1.6zM671.1 263.9h1.6v1.6h-1.6zM674.6 263.9h1.6v1.6h-1.6zM684.0 263.9h6.3v1.6h-6.3zM691.0 263.9h2.8v1.6h-2.8zM694.5 263.9h1.6v1.6h-1.6zM698.0 263.9h2.8v1.6h-2.8zM701.5 263.9h2.8v1.6h-2.8zM706.2 263.9h4.0v1.6h-4.0zM723.8 263.9h1.6v1.6h-1.6zM673.5 265.1h6.3v1.6h-6.3zM680.5 265.1h13.3v1.6h-13.3zM698.0 265.1h1.6v1.6h-1.6zM700.4 265.1h1.6v1.6h-1.6zM702.7 265.1h2.8v1.6h-2.8zM707.4 265.1h4.0v1.6h-4.0zM716.7 265.1h1.6v1.6h-1.6zM672.3 266.3h18.0v1.6h-18.0zM691.0 266.3h2.8v1.6h-2.8zM702.7 266.3h1.6v1.6h-1.6zM706.2 266.3h1.6v1.6h-1.6zM714.4 266.3h1.6v1.6h-1.6zM672.3 267.5h6.3v1.6h-6.3zM679.3 267.5h13.3v1.6h-13.3zM695.7 267.5h1.6v1.6h-1.6zM710.9 267.5h1.6v1.6h-1.6zM671.1 268.6h2.8v1.6h-2.8zM674.6 268.6h5.1v1.6h-5.1zM681.6 268.6h5.1v1.6h-5.1zM687.5 268.6h6.3v1.6h-6.3zM694.5 268.6h1.6v1.6h-1.6zM712.1 268.6h1.6v1.6h-1.6zM673.5 269.8h4.0v1.6h-4.0zM681.6 269.8h4.0v1.6h-4.0zM686.3 269.8h2.8v1.6h-2.8zM689.8 269.8h2.8v1.6h-2.8zM694.5 269.8h1.6v1.6h-1.6zM672.3 271.0h5.1v1.6h-5.1zM680.5 271.0h1.6v1.6h-1.6zM682.8 271.0h4.0v1.6h-4.0zM688.7 271.0h9.8v1.6h-9.8zM674.6 272.1h4.0v1.6h-4.0zM679.3 272.1h1.6v1.6h-1.6zM682.8 272.1h8.6v1.6h-8.6zM693.3 272.1h2.8v1.6h-2.8zM715.6 272.1h1.6v1.6h-1.6zM674.6 273.3h1.6v1.6h-1.6zM677.0 273.3h2.8v1.6h-2.8zM681.6 273.3h11.0v1.6h-11.0zM693.3 273.3h2.8v1.6h-2.8zM677.0 274.5h13.3v1.6h-13.3zM691.0 274.5h1.6v1.6h-1.6zM694.5 274.5h1.6v1.6h-1.6zM696.9 274.5h1.6v1.6h-1.6zM679.3 275.6h9.8v1.6h-9.8zM689.8 275.6h2.8v1.6h-2.8zM701.5 275.6h1.6v1.6h-1.6zM681.6 276.8h1.6v1.6h-1.6zM684.0 276.8h5.1v1.6h-5.1zM689.8 276.8h2.8v1.6h-2.8zM698.0 276.8h1.6v1.6h-1.6zM700.4 276.8h6.3v1.6h-6.3zM682.8 278.0h2.8v1.6h-2.8zM686.3 278.0h5.1v1.6h-5.1zM693.3 278.0h1.6v1.6h-1.6zM698.0 278.0h1.6v1.6h-1.6zM701.5 278.0h4.0v1.6h-4.0zM681.6 279.2h7.5v1.6h-7.5zM689.8 279.2h2.8v1.6h-2.8zM693.3 279.2h1.6v1.6h-1.6zM699.2 279.2h1.6v1.6h-1.6zM701.5 279.2h4.0v1.6h-4.0zM706.2 279.2h2.8v1.6h-2.8zM675.8 280.3h1.6v1.6h-1.6zM681.6 280.3h5.1v1.6h-5.1zM691.0 280.3h6.3v1.6h-6.3zM699.2 280.3h1.6v1.6h-1.6zM701.5 280.3h1.6v1.6h-1.6zM705.0 280.3h4.0v1.6h-4.0zM682.8 281.5h4.0v1.6h-4.0zM687.5 281.5h1.6v1.6h-1.6zM689.8 281.5h2.8v1.6h-2.8zM693.3 281.5h2.8v1.6h-2.8zM696.9 281.5h1.6v1.6h-1.6zM699.2 281.5h1.6v1.6h-1.6zM701.5 281.5h2.8v1.6h-2.8zM706.2 281.5h2.8v1.6h-2.8zM681.6 282.7h4.0v1.6h-4.0zM688.7 282.7h1.6v1.6h-1.6zM691.0 282.7h1.6v1.6h-1.6zM695.7 282.7h1.6v1.6h-1.6zM698.0 282.7h4.0v1.6h-4.0zM682.8 283.8h2.8v1.6h-2.8zM691.0 283.8h2.8v1.6h-2.8zM689.8 285.0h1.6v1.6h-1.6zM692.2 285.0h1.6v1.6h-1.6zM729.6 285.0h1.6v1.6h-1.6zM691.0 286.2h1.6v1.6h-1.6zM691.0 287.3h1.6v1.6h-1.6zM720.2 287.3h1.6v1.6h-1.6zM698.0 288.5h2.8v1.6h-2.8zM698.0 289.7h1.6v1.6h-1.6zM706.2 289.7h1.6v1.6h-1.6zM698.0 290.9h1.6v1.6h-1.6zM708.6 290.9h1.6v1.6h-1.6zM691.0 292.0h1.6v1.6h-1.6zM698.0 292.0h1.6v1.6h-1.6zM689.8 293.2h1.6v1.6h-1.6zM694.5 293.2h1.6v1.6h-1.6zM696.9 293.2h5.1v1.6h-5.1zM693.3 294.4h1.6v1.6h-1.6zM698.0 294.4h1.6v1.6h-1.6zM700.4 294.4h2.8v1.6h-2.8zM706.2 294.4h1.6v1.6h-1.6zM702.7 295.5h1.6v1.6h-1.6zM706.2 295.5h1.6v1.6h-1.6zM703.9 296.7h1.6v1.6h-1.6zM706.2 296.7h1.6v1.6h-1.6zM710.9 296.7h1.6v1.6h-1.6zM707.4 297.9h1.6v1.6h-1.6zM710.9 297.9h2.8v1.6h-2.8zM709.7 299.0h1.6v1.6h-1.6zM707.4 300.2h1.6v1.6h-1.6z"/>
<path fill="#ff8800" d="M678.1 267.5h1.6v1.6h-1.6zM679.3 268.6h2.8v1.6h-2.8zM677.0 269.8h5.1v1.6h-5.1zM677.0 271.0h4.0v1.6h-4.0zM681.6 271.0h1.6v1.6h-1.6zM678.1 272.1h1.6v1.6h-1.6zM680.5 272.1h2.8v1.6h-2.8zM679.3 273.3h2.8v1.6h-2.8z"/>
<path fill="#000044" d="M663.8 263.0 626.5 269.0 625.2 271.6 642.0 268.8 663.8 264.6 Z"/>
<path fill="#ff0000" d="M660.0 264.6 633.5 269.8 645.0 268.6 661.0 265.6 Z"/>
<path fill="#000044" d="M663.8 265.6 633.5 275.2 625.5 281.5 629.5 286.2 663.8 266.8 Z"/>
<path fill="#ff0000" d="M663.2 265.9 638.0 274.2 630.5 283.8 646.0 276.5 663.2 267.2 Z"/>
<path fill="#000066" d="M660.4 258.2h1.4v1.4h-1.4zM657.2 256.9h1.4v1.4h-1.4zM654.0 255.5h1.4v1.4h-1.4zM650.7 254.2h1.4v1.4h-1.4zM647.5 252.9h1.4v1.4h-1.4zM644.3 251.5h1.4v1.4h-1.4zM641.0 250.2h1.4v1.4h-1.4zM637.8 248.8h1.4v1.4h-1.4zM634.6 247.5h1.4v1.4h-1.4zM631.3 246.2h1.4v1.4h-1.4zM628.1 244.8h1.4v1.4h-1.4zM624.9 243.5h1.4v1.4h-1.4zM621.6 242.1h1.4v1.4h-1.4z"/>
<path fill="#ee0000" d="M663.0 266.7h1.4v1.4h-1.4zM661.0 269.6h1.4v1.4h-1.4zM659.1 272.5h1.4v1.4h-1.4zM657.1 275.4h1.4v1.4h-1.4zM655.2 278.3h1.4v1.4h-1.4zM653.2 281.2h1.4v1.4h-1.4z"/>
<circle cx="667.6" cy="261.6" r="4.9" fill="#fff"/>
<path fill="#ff0000" d="M626 317.5h2v2h-2zM519.5 320.5h1.4v1.4h-1.4zM522.5 319h1.4v1.4h-1.4zM525.5 317.5h1.4v1.4h-1.4z"/>
<path fill="#22aaff" d="M661.5 259.8h1.6v2h-1.6z"/>
<path fill="#ff0000" d="M504.6 275.4 509.8 275.4 510.7 282.5 508.9 286.8 510.7 296.5 512.5 302.6 516.0 306.1 514.2 308.8 509.8 307.0 506.3 304.4 503.7 299.1 501.9 293.9 501.1 291.2 502.8 286.8 504.6 281.6 Z"/>
<path fill="#000044" d="M504.6 275.4 507.0 275.4 506.0 282.0 505.0 290.0 507.0 298.0 511.0 304.0 514.2 308.8 509.8 307.0 506.3 304.4 503.7 299.1 501.1 291.2 502.8 286.8 504.6 281.6 Z"/>
<path fill="#ff0000" d="M527.4 304.4 531.8 303.5 535.3 308.8 536.1 313.2 532.6 316.7 530.0 313.2 529.1 307.9 Z"/>
<path fill="#000044" d="M529.5 310.0 532.0 309.0 532.6 316.7 530.0 314.0 Z"/>
<path fill="#ff0000" d="M508.1 327.2 513.3 326.3 517.7 329.8 522.1 336.0 522.1 338.6 518.6 341.2 515.1 336.8 511.6 331.6 508.1 328.9 Z"/>
<path fill="#000044" d="M511.5 329.5 514.0 330.0 517.0 336.0 518.6 341.2 515.1 336.8 511.6 331.6 Z"/>
<path fill="#ff0000" d="M527.4 336.8 531.8 335.1 533.5 339.5 536.1 344.7 531.8 347.4 529.1 343.9 526.5 339.5 Z"/>
<path fill="#000044" d="M527.4 336.8 530.0 337.0 531.5 344.0 533.0 347.0 529.1 343.9 526.5 339.5 Z"/>
<path fill="#ff0000" d="M707.0 338.1 709.8 337.0 712.6 339.5 714.4 342.6 711.6 344.0 711.2 348.2 708.8 350.4 709.8 356.0 709.8 361.6 707.7 361.6 706.7 356.7 707.0 352.5 706.3 346.8 707.7 342.6 Z"/>
<path fill="#000044" d="M710.5 341.9 714.4 342.6 711.2 348.2 708.1 350.4 708.4 346.8 Z"/>
<path fill="#000044" d="M708.5 357.5 710.0 357.5 710.0 361.6 708.5 361.6 Z"/>
<path fill="#ff0000" d="M720.4 347.2 723.2 348.2 726.0 351.0 727.4 353.5 724.6 355.3 721.1 353.2 720.0 350.4 Z"/>
<path fill="#000044" d="M721.1 352.5 726.0 351.8 727.4 353.5 724.6 355.6 721.1 353.5 Z"/>
<path fill="#ff0000" d="M730.9 348.2 733.7 346.5 737.2 346.8 740.7 348.9 743.5 345.4 746.3 345.8 748.1 347.9 744.9 352.5 741.4 351.8 737.9 351.0 735.1 355.3 734.4 362.3 730.2 358.1 730.9 353.2 Z"/>
<path fill="#000044" d="M735.1 349.6 738.2 349.3 740.7 350.4 744.9 347.5 748.1 347.9 745.6 352.5 742.1 352.5 738.2 350.7 735.8 353.9 735.1 362.3 733.0 359.5 733.7 352.5 Z"/>
<path fill="#ff0000" d="M688.4 320.4 690.0 319.8 692.2 324.0 691.6 326.7 689.2 323.5 Z"/>
<path fill="#000044" d="M689.6 322.8 691.0 322.2 692.6 326.5 691.6 327.2 Z"/>
<path fill="#ff0000" d="M700.4 318.9 703.9 323.2 703.9 330.9 701.1 334.4 699.3 328.1 701.0 324.0 Z"/>
<path fill="#000044" d="M703.2 330.2 704.6 331.0 703.2 332.5 Z"/>
<path fill="#ff0000" d="M695.4 333.0 697.0 332.5 698.6 338.6 697.2 338.8 Z"/>
<path fill="#000044" d="M696.6 335.5 697.8 335.2 698.8 338.8 697.6 339.0 Z"/>
<path fill="#ff3300" d="M704.0 315.5 706.2 315.2 707.0 318.2 705.0 318.5 Z"/>
<path d="M480 179.4 490.3 179.4 492.1 177.4 493.6 174 495.5 173.2 503 176.9 509.3 180.9 520.2 177.4 531.7 172.3 547.8 162.3 548.7 155 551.8 154.1 552.2 149.3 554.1 147.6 551.8 143.8 549 145.3 546.7 142.4 549 140.1 550.1 136.1 551.8 134.6 574.3 133.2 575.2 145.8 579.6 145.3 583.3 146.2 584.8 139.3 582.5 138.1 583.6 134.1 587.1 133.8 589.4 131.5 593.4 135.6 599.1 135.8 606.6 139.1 611.8 137 618.7 137.6 624.4 139.5 626.7 142.7 630.2 143.3 634.8 141.4 641.7 141.6 644.2 138.9 644.9 136.8 647 135.7 649.1 138.2 651.6 138.2 655.1 135.4 655.8 132.5 659.3 136.1 661.8 135.4 664.9 131.1 660.4 131.1 663.9 128.7 667.4 126.2 669.8 125.5 671.2 127.1 675.1 124.5 676.8 123.1 675.1 126.2 677.9 128 681.4 127.3 682.1 124.5 683.9 122.7 684.2 116.4 691.9 117.1 692.3 121.3 695.3 121.5 697.5 119.7 698.3 121.9 701 122.8 703.2 129.8 703.6 133.3 704 138.2 698.8 138.6 696.1 137.3 698.8 145.6 706.2 143 705.8 140.4 711.1 145.2 715.4 143 713.7 138.6 715.4 137.3 716.8 140.8 726.4 136 722.9 128.9 715.4 132.5 708 128.9 715.4 125.9 708.4 109.6 719.8 104.4 730.4 123.7 733.4 123.7 733.4 125.9 728.6 128.5 730.4 132.5 740 128.1 734.7 116.7 735.6 114.9 740.9 117.1 740.4 120.2 746.1 116.2 743.5 111.4 732.6 102.9 738.8 96.3 753.7 108.2 758.9 101.1 756.3 98.5 753.7 100.7 741.4 90.2 744.5 81.4 751.1 78.8 772.1 85.4 773 83.2 773.4 75.3 773.4 72M519.7 72 519.7 75 514.5 80.9 512.2 84.3 513.3 90.1 512.8 95.8 516.2 98.1 517.9 102.7 522.5 110.6 529.4 111.4 533.1 108.3 535.7 109.1 538.6 107.3 542.1 106.8 543.8 102.7 543.8 99.3 546.7 98.1 549 97.6 549.5 94.1 551.8 90.7 555.3 90.1 553.6 87.2 554.1 82.6 553 78.6 553 72" fill="none" stroke="#000" stroke-width="1.2" stroke-linejoin="round"/>
<path d="M670.2 115 670.9 117.5M765.5 75 767 79 769 78.5 770 75.5M507 85.3 508.5 84.8" fill="none" stroke="#000" stroke-width="1.5" stroke-linejoin="round" stroke-linecap="round"/>
</g>
<text x="59.3" y="24.8" font-size="33.7" textLength="523.4" lengthAdjust="spacingAndGlyphs">Fukuoka, 20181116 [14:06, el=0.0]</text>
<text x="58.5" y="58.7" font-size="28.6" textLength="119.7" lengthAdjust="spacingAndGlyphs">SNR [dB]</text>
<text x="480.4" y="58.7" font-size="28.6" textLength="309.5" lengthAdjust="spacingAndGlyphs">Doppler Velocity [m/s]</text>
<path d="M70.7 74.4V67.4M70.7 449V456M59 86.1H52M433.5 86.1H440.5M82.4 74.4V67.4M82.4 449V456M59 97.8H52M433.5 97.8H440.5M94.1 74.4V67.4M94.1 449V456M59 109.5H52M433.5 109.5H440.5M105.8 74.4V67.4M105.8 449V456M59 121.2H52M433.5 121.2H440.5M117.5 74.4V67.4M117.5 449V456M59 132.9H52M433.5 132.9H440.5M129.2 74.4V67.4M129.2 449V456M59 144.6H52M433.5 144.6H440.5M140.9 74.4V67.4M140.9 449V456M59 156.3H52M433.5 156.3H440.5M164.3 74.4V67.4M164.3 449V456M59 179.8H52M433.5 179.8H440.5M176 74.4V67.4M176 449V456M59 191.5H52M433.5 191.5H440.5M187.7 74.4V67.4M187.7 449V456M59 203.2H52M433.5 203.2H440.5M199.4 74.4V67.4M199.4 449V456M59 214.9H52M433.5 214.9H440.5M211.1 74.4V67.4M211.1 449V456M59 226.6H52M433.5 226.6H440.5M222.8 74.4V67.4M222.8 449V456M59 238.3H52M433.5 238.3H440.5M234.5 74.4V67.4M234.5 449V456M59 250H52M433.5 250H440.5M258 74.4V67.4M258 449V456M59 273.4H52M433.5 273.4H440.5M269.7 74.4V67.4M269.7 449V456M59 285.1H52M433.5 285.1H440.5M281.4 74.4V67.4M281.4 449V456M59 296.8H52M433.5 296.8H440.5M293.1 74.4V67.4M293.1 449V456M59 308.5H52M433.5 308.5H440.5M304.8 74.4V67.4M304.8 449V456M59 320.2H52M433.5 320.2H440.5M316.5 74.4V67.4M316.5 449V456M59 331.9H52M433.5 331.9H440.5M328.2 74.4V67.4M328.2 449V456M59 343.6H52M433.5 343.6H440.5M351.6 74.4V67.4M351.6 449V456M59 367.1H52M433.5 367.1H440.5M363.3 74.4V67.4M363.3 449V456M59 378.8H52M433.5 378.8H440.5M375 74.4V67.4M375 449V456M59 390.5H52M433.5 390.5H440.5M386.7 74.4V67.4M386.7 449V456M59 402.2H52M433.5 402.2H440.5M398.4 74.4V67.4M398.4 449V456M59 413.9H52M433.5 413.9H440.5M410.1 74.4V67.4M410.1 449V456M59 425.6H52M433.5 425.6H440.5M421.8 74.4V67.4M421.8 449V456M59 437.3H52M433.5 437.3H440.5" stroke="#000" stroke-width="1.3" fill="none"/>
<path d="M59 74.4V60.4M59 449V463M59 74.4H45M433.5 74.4H447.5M152.6 74.4V60.4M152.6 449V463M59 168.1H45M433.5 168.1H447.5M246.2 74.4V60.4M246.2 449V463M59 261.7H45M433.5 261.7H447.5M339.9 74.4V60.4M339.9 449V463M59 355.4H45M433.5 355.4H447.5M433.5 74.4V60.4M433.5 449V463M59 449H45M433.5 449H447.5" stroke="#000" stroke-width="1.8" fill="none"/>
<rect x="59" y="74.4" width="374.5" height="374.6" fill="none" stroke="#000" stroke-width="2"/>
<path d="M491.9 74.4V67.4M491.9 449V456M480.2 86.1H473.2M854.8 86.1H861.8M503.6 74.4V67.4M503.6 449V456M480.2 97.8H473.2M854.8 97.8H861.8M515.3 74.4V67.4M515.3 449V456M480.2 109.5H473.2M854.8 109.5H861.8M527 74.4V67.4M527 449V456M480.2 121.2H473.2M854.8 121.2H861.8M538.7 74.4V67.4M538.7 449V456M480.2 132.9H473.2M854.8 132.9H861.8M550.4 74.4V67.4M550.4 449V456M480.2 144.6H473.2M854.8 144.6H861.8M562.1 74.4V67.4M562.1 449V456M480.2 156.3H473.2M854.8 156.3H861.8M585.6 74.4V67.4M585.6 449V456M480.2 179.8H473.2M854.8 179.8H861.8M597.3 74.4V67.4M597.3 449V456M480.2 191.5H473.2M854.8 191.5H861.8M609 74.4V67.4M609 449V456M480.2 203.2H473.2M854.8 203.2H861.8M620.7 74.4V67.4M620.7 449V456M480.2 214.9H473.2M854.8 214.9H861.8M632.4 74.4V67.4M632.4 449V456M480.2 226.6H473.2M854.8 226.6H861.8M644.1 74.4V67.4M644.1 449V456M480.2 238.3H473.2M854.8 238.3H861.8M655.8 74.4V67.4M655.8 449V456M480.2 250H473.2M854.8 250H861.8M679.2 74.4V67.4M679.2 449V456M480.2 273.4H473.2M854.8 273.4H861.8M690.9 74.4V67.4M690.9 449V456M480.2 285.1H473.2M854.8 285.1H861.8M702.6 74.4V67.4M702.6 449V456M480.2 296.8H473.2M854.8 296.8H861.8M714.3 74.4V67.4M714.3 449V456M480.2 308.5H473.2M854.8 308.5H861.8M726 74.4V67.4M726 449V456M480.2 320.2H473.2M854.8 320.2H861.8M737.7 74.4V67.4M737.7 449V456M480.2 331.9H473.2M854.8 331.9H861.8M749.4 74.4V67.4M749.4 449V456M480.2 343.6H473.2M854.8 343.6H861.8M772.9 74.4V67.4M772.9 449V456M480.2 367.1H473.2M854.8 367.1H861.8M784.6 74.4V67.4M784.6 449V456M480.2 378.8H473.2M854.8 378.8H861.8M796.3 74.4V67.4M796.3 449V456M480.2 390.5H473.2M854.8 390.5H861.8M808 74.4V67.4M808 449V456M480.2 402.2H473.2M854.8 402.2H861.8M819.7 74.4V67.4M819.7 449V456M480.2 413.9H473.2M854.8 413.9H861.8M831.4 74.4V67.4M831.4 449V456M480.2 425.6H473.2M854.8 425.6H861.8M843.1 74.4V67.4M843.1 449V456M480.2 437.3H473.2M854.8 437.3H861.8" stroke="#000" stroke-width="1.3" fill="none"/>
<path d="M480.2 74.4V60.4M480.2 449V463M480.2 74.4H466.2M854.8 74.4H868.8M573.9 74.4V60.4M573.9 449V463M480.2 168.1H466.2M854.8 168.1H868.8M667.5 74.4V60.4M667.5 449V463M480.2 261.7H466.2M854.8 261.7H868.8M761.1 74.4V60.4M761.1 449V463M480.2 355.4H466.2M854.8 355.4H868.8M854.8 74.4V60.4M854.8 449V463M480.2 449H466.2M854.8 449H868.8" stroke="#000" stroke-width="1.8" fill="none"/>
<rect x="480.2" y="74.4" width="374.6" height="374.6" fill="none" stroke="#000" stroke-width="2"/>
<text x="30.8" y="84" font-size="30.2" text-anchor="end">8</text>
<text x="30.8" y="177.7" font-size="30.2" text-anchor="end">4</text>
<text x="30.8" y="271.3" font-size="30.2" text-anchor="end">0</text>
<text x="30.8" y="365" font-size="30.2" text-anchor="end">−4</text>
<text x="30.8" y="458.6" font-size="30.2" text-anchor="end">−8</text>
<text x="59" y="500" font-size="30.2" text-anchor="middle">−8</text>
<text x="152.6" y="500" font-size="30.2" text-anchor="middle">−4</text>
<text x="246.2" y="500" font-size="30.2" text-anchor="middle">0</text>
<text x="339.9" y="500" font-size="30.2" text-anchor="middle">4</text>
<text x="433.5" y="500" font-size="30.2" text-anchor="middle">8</text>
<text x="480.2" y="500" font-size="30.2" text-anchor="middle">−8</text>
<text x="573.9" y="500" font-size="30.2" text-anchor="middle">−4</text>
<text x="667.5" y="500" font-size="30.2" text-anchor="middle">0</text>
<text x="761.1" y="500" font-size="30.2" text-anchor="middle">4</text>
<text x="854.8" y="500" font-size="30.2" text-anchor="middle">8</text>
<rect x="59.10" y="509.7" width="9.15" height="9.3" fill="#000000"/>
<rect x="68.20" y="509.7" width="9.15" height="9.3" fill="#000000"/>
<rect x="77.29" y="509.7" width="9.15" height="9.3" fill="#000000"/>
<rect x="86.39" y="509.7" width="9.15" height="9.3" fill="#000000"/>
<rect x="95.48" y="509.7" width="9.15" height="9.3" fill="#000000"/>
<rect x="104.58" y="509.7" width="9.15" height="9.3" fill="#000000"/>
<rect x="113.67" y="509.7" width="9.15" height="9.3" fill="#000000"/>
<rect x="122.77" y="509.7" width="9.15" height="9.3" fill="#000000"/>
<rect x="131.86" y="509.7" width="9.15" height="9.3" fill="#000000"/>
<rect x="140.96" y="509.7" width="9.15" height="9.3" fill="#000000"/>
<rect x="150.05" y="509.7" width="9.15" height="9.3" fill="#0a0a0a"/>
<rect x="159.15" y="509.7" width="9.15" height="9.3" fill="#141414"/>
<rect x="168.24" y="509.7" width="9.15" height="9.3" fill="#1d1d1d"/>
<rect x="177.34" y="509.7" width="9.15" height="9.3" fill="#272727"/>
<rect x="186.43" y="509.7" width="9.15" height="9.3" fill="#303030"/>
<rect x="195.53" y="509.7" width="9.15" height="9.3" fill="#3a3a3a"/>
<rect x="204.62" y="509.7" width="9.15" height="9.3" fill="#444444"/>
<rect x="213.72" y="509.7" width="9.15" height="9.3" fill="#4d4d4d"/>
<rect x="222.81" y="509.7" width="9.15" height="9.3" fill="#575757"/>
<rect x="231.91" y="509.7" width="9.15" height="9.3" fill="#606060"/>
<rect x="241.00" y="509.7" width="9.15" height="9.3" fill="#6a6a6a"/>
<rect x="250.09" y="509.7" width="9.15" height="9.3" fill="#747474"/>
<rect x="259.19" y="509.7" width="9.15" height="9.3" fill="#7d7d7d"/>
<rect x="268.29" y="509.7" width="9.15" height="9.3" fill="#878787"/>
<rect x="277.38" y="509.7" width="9.15" height="9.3" fill="#909090"/>
<rect x="286.48" y="509.7" width="9.15" height="9.3" fill="#9a9a9a"/>
<rect x="295.57" y="509.7" width="9.15" height="9.3" fill="#a4a4a4"/>
<rect x="304.67" y="509.7" width="9.15" height="9.3" fill="#adadad"/>
<rect x="313.76" y="509.7" width="9.15" height="9.3" fill="#b7b7b7"/>
<rect x="322.86" y="509.7" width="9.15" height="9.3" fill="#c0c0c0"/>
<rect x="331.95" y="509.7" width="9.15" height="9.3" fill="#cacaca"/>
<rect x="341.05" y="509.7" width="9.15" height="9.3" fill="#d4d4d4"/>
<rect x="350.14" y="509.7" width="9.15" height="9.3" fill="#dddddd"/>
<rect x="359.24" y="509.7" width="9.15" height="9.3" fill="#e7e7e7"/>
<rect x="368.33" y="509.7" width="9.15" height="9.3" fill="#f0f0f0"/>
<rect x="377.43" y="509.7" width="9.15" height="9.3" fill="#fafafa"/>
<path d="M386.52 509.7L395.12 514.4L386.52 519Z" fill="#ffff00" stroke="#000" stroke-width="2" stroke-linejoin="round"/>
<path d="M68.20 509.7V519M77.29 509.7V519M86.39 509.7V519M95.48 509.7V519M104.58 509.7V519M113.67 509.7V519M122.77 509.7V519M131.86 509.7V519M140.96 509.7V519M150.05 509.7V519M159.15 509.7V519M168.24 509.7V519M177.34 509.7V519M186.43 509.7V519M195.53 509.7V519M204.62 509.7V519M213.72 509.7V519M222.81 509.7V519M231.91 509.7V519M241.00 509.7V519M250.09 509.7V519M259.19 509.7V519M268.29 509.7V519M277.38 509.7V519M286.48 509.7V519M295.57 509.7V519M304.67 509.7V519M313.76 509.7V519M322.86 509.7V519M331.95 509.7V519M341.05 509.7V519M350.14 509.7V519M359.24 509.7V519M368.33 509.7V519M377.43 509.7V519" stroke="#000" stroke-width="1.8"/>
<path d="M58.10 509.7H387.52M58.10 519H387.52" stroke="#000" stroke-width="2"/>
<path d="M59.10 509.7V519" stroke="#000" stroke-width="2"/>
<path d="M68.20 519V526.3M77.29 519V526.3M86.39 519V526.3M95.48 519V526.3M113.67 519V526.3M122.77 519V526.3M131.86 519V526.3M140.96 519V526.3M159.15 519V526.3M168.24 519V526.3M177.34 519V526.3M186.43 519V526.3M204.62 519V526.3M213.72 519V526.3M222.81 519V526.3M231.91 519V526.3M250.09 519V526.3M259.19 519V526.3M268.29 519V526.3M277.38 519V526.3M295.57 519V526.3M304.67 519V526.3M313.76 519V526.3M322.86 519V526.3M341.05 519V526.3M350.14 519V526.3M359.24 519V526.3M368.33 519V526.3M386.52 519V526.3" stroke="#000" stroke-width="1.7"/>
<path d="M59.10 519V533.8M104.58 519V533.8M150.05 519V533.8M195.53 519V533.8M241.00 519V533.8M286.48 519V533.8M331.95 519V533.8M377.43 519V533.8" stroke="#000" stroke-width="1.9"/>
<text x="59.10" y="569.2" font-size="30.2" text-anchor="middle">0</text>
<text x="104.58" y="569.2" font-size="30.2" text-anchor="middle">2.5</text>
<text x="150.05" y="569.2" font-size="30.2" text-anchor="middle">5</text>
<text x="195.53" y="569.2" font-size="30.2" text-anchor="middle">7.5</text>
<text x="241.00" y="569.2" font-size="30.2" text-anchor="middle">10</text>
<text x="286.48" y="569.2" font-size="30.2" text-anchor="middle">12.5</text>
<text x="331.95" y="569.2" font-size="30.2" text-anchor="middle">15</text>
<text x="377.43" y="569.2" font-size="30.2" text-anchor="middle">17.5</text>
<rect x="480.40" y="509.7" width="8.69" height="9.3" fill="#d5ffff"/>
<rect x="489.04" y="509.7" width="8.69" height="9.3" fill="#b5ffff"/>
<rect x="497.68" y="509.7" width="8.69" height="9.3" fill="#99ffff"/>
<rect x="506.32" y="509.7" width="8.69" height="9.3" fill="#7ff8f8"/>
<rect x="514.96" y="509.7" width="8.69" height="9.3" fill="#6afcfc"/>
<rect x="523.60" y="509.7" width="8.69" height="9.3" fill="#44eeff"/>
<rect x="532.24" y="509.7" width="8.69" height="9.3" fill="#33ccff"/>
<rect x="540.88" y="509.7" width="8.69" height="9.3" fill="#22aaff"/>
<rect x="549.52" y="509.7" width="8.69" height="9.3" fill="#1199ff"/>
<rect x="558.16" y="509.7" width="8.69" height="9.3" fill="#0a7aff"/>
<rect x="566.80" y="509.7" width="8.69" height="9.3" fill="#0060ff"/>
<rect x="575.44" y="509.7" width="8.69" height="9.3" fill="#0040ff"/>
<rect x="584.08" y="509.7" width="8.69" height="9.3" fill="#0010ff"/>
<rect x="592.72" y="509.7" width="8.69" height="9.3" fill="#0000ee"/>
<rect x="601.36" y="509.7" width="8.69" height="9.3" fill="#0000cc"/>
<rect x="610.00" y="509.7" width="8.69" height="9.3" fill="#0000aa"/>
<rect x="618.64" y="509.7" width="8.69" height="9.3" fill="#000088"/>
<rect x="627.28" y="509.7" width="8.69" height="9.3" fill="#000070"/>
<rect x="635.92" y="509.7" width="8.69" height="9.3" fill="#000044"/>
<rect x="644.56" y="509.7" width="8.69" height="9.3" fill="#ee0000"/>
<rect x="653.20" y="509.7" width="8.69" height="9.3" fill="#ff1100"/>
<rect x="661.84" y="509.7" width="8.69" height="9.3" fill="#ff3300"/>
<rect x="670.48" y="509.7" width="8.69" height="9.3" fill="#ff4400"/>
<rect x="679.12" y="509.7" width="8.69" height="9.3" fill="#ff6000"/>
<rect x="687.76" y="509.7" width="8.69" height="9.3" fill="#ff7700"/>
<rect x="696.40" y="509.7" width="8.69" height="9.3" fill="#ff8800"/>
<rect x="705.04" y="509.7" width="8.69" height="9.3" fill="#ffa000"/>
<rect x="713.68" y="509.7" width="8.69" height="9.3" fill="#ffb830"/>
<rect x="722.32" y="509.7" width="8.69" height="9.3" fill="#ffc030"/>
<rect x="730.96" y="509.7" width="8.69" height="9.3" fill="#ffdd44"/>
<rect x="739.60" y="509.7" width="8.69" height="9.3" fill="#ffff55"/>
<rect x="748.24" y="509.7" width="8.69" height="9.3" fill="#ffff66"/>
<rect x="756.88" y="509.7" width="8.69" height="9.3" fill="#ffff77"/>
<rect x="765.52" y="509.7" width="8.69" height="9.3" fill="#ffff88"/>
<rect x="774.16" y="509.7" width="8.69" height="9.3" fill="#ffffa0"/>
<rect x="782.80" y="509.7" width="8.69" height="9.3" fill="#ffffb0"/>
<rect x="791.44" y="509.7" width="8.69" height="9.3" fill="#ffffcc"/>
<rect x="800.08" y="509.7" width="8.69" height="9.3" fill="#ffffe0"/>
<path d="M480.40 509.7L471.80 514.4L480.40 519Z" fill="#ddffff" stroke="#000" stroke-width="2" stroke-linejoin="round"/>
<path d="M808.72 509.7L817.32 514.4L808.72 519Z" fill="#ffffee" stroke="#000" stroke-width="2" stroke-linejoin="round"/>
<path d="M489.04 509.7V519M497.68 509.7V519M506.32 509.7V519M514.96 509.7V519M523.60 509.7V519M532.24 509.7V519M540.88 509.7V519M549.52 509.7V519M558.16 509.7V519M566.80 509.7V519M575.44 509.7V519M584.08 509.7V519M592.72 509.7V519M601.36 509.7V519M610.00 509.7V519M618.64 509.7V519M627.28 509.7V519M635.92 509.7V519M644.56 509.7V519M653.20 509.7V519M661.84 509.7V519M670.48 509.7V519M679.12 509.7V519M687.76 509.7V519M696.40 509.7V519M705.04 509.7V519M713.68 509.7V519M722.32 509.7V519M730.96 509.7V519M739.60 509.7V519M748.24 509.7V519M756.88 509.7V519M765.52 509.7V519M774.16 509.7V519M782.80 509.7V519M791.44 509.7V519M800.08 509.7V519" stroke="#000" stroke-width="1.8"/>
<path d="M479.40 509.7H809.72M479.40 519H809.72" stroke="#000" stroke-width="2"/>
<path d="M480.40 519V526.3M489.04 519V526.3M497.68 519V526.3M514.96 519V526.3M523.60 519V526.3M532.24 519V526.3M540.88 519V526.3M549.52 519V526.3M558.16 519V526.3M566.80 519V526.3M584.08 519V526.3M592.72 519V526.3M601.36 519V526.3M610.00 519V526.3M618.64 519V526.3M627.28 519V526.3M635.92 519V526.3M653.20 519V526.3M661.84 519V526.3M670.48 519V526.3M679.12 519V526.3M687.76 519V526.3M696.40 519V526.3M705.04 519V526.3M722.32 519V526.3M730.96 519V526.3M739.60 519V526.3M748.24 519V526.3M756.88 519V526.3M765.52 519V526.3M774.16 519V526.3M791.44 519V526.3M800.08 519V526.3M808.72 519V526.3" stroke="#000" stroke-width="1.7"/>
<path d="M506.32 519V533.8M575.44 519V533.8M644.56 519V533.8M713.68 519V533.8M782.80 519V533.8" stroke="#000" stroke-width="1.9"/>
<text x="506.32" y="569.2" font-size="30.2" text-anchor="middle">−8</text>
<text x="575.44" y="569.2" font-size="30.2" text-anchor="middle">−4</text>
<text x="644.56" y="569.2" font-size="30.2" text-anchor="middle">0</text>
<text x="713.68" y="569.2" font-size="30.2" text-anchor="middle">4</text>
<text x="782.80" y="569.2" font-size="30.2" text-anchor="middle">8</text>
</svg></body></html>
